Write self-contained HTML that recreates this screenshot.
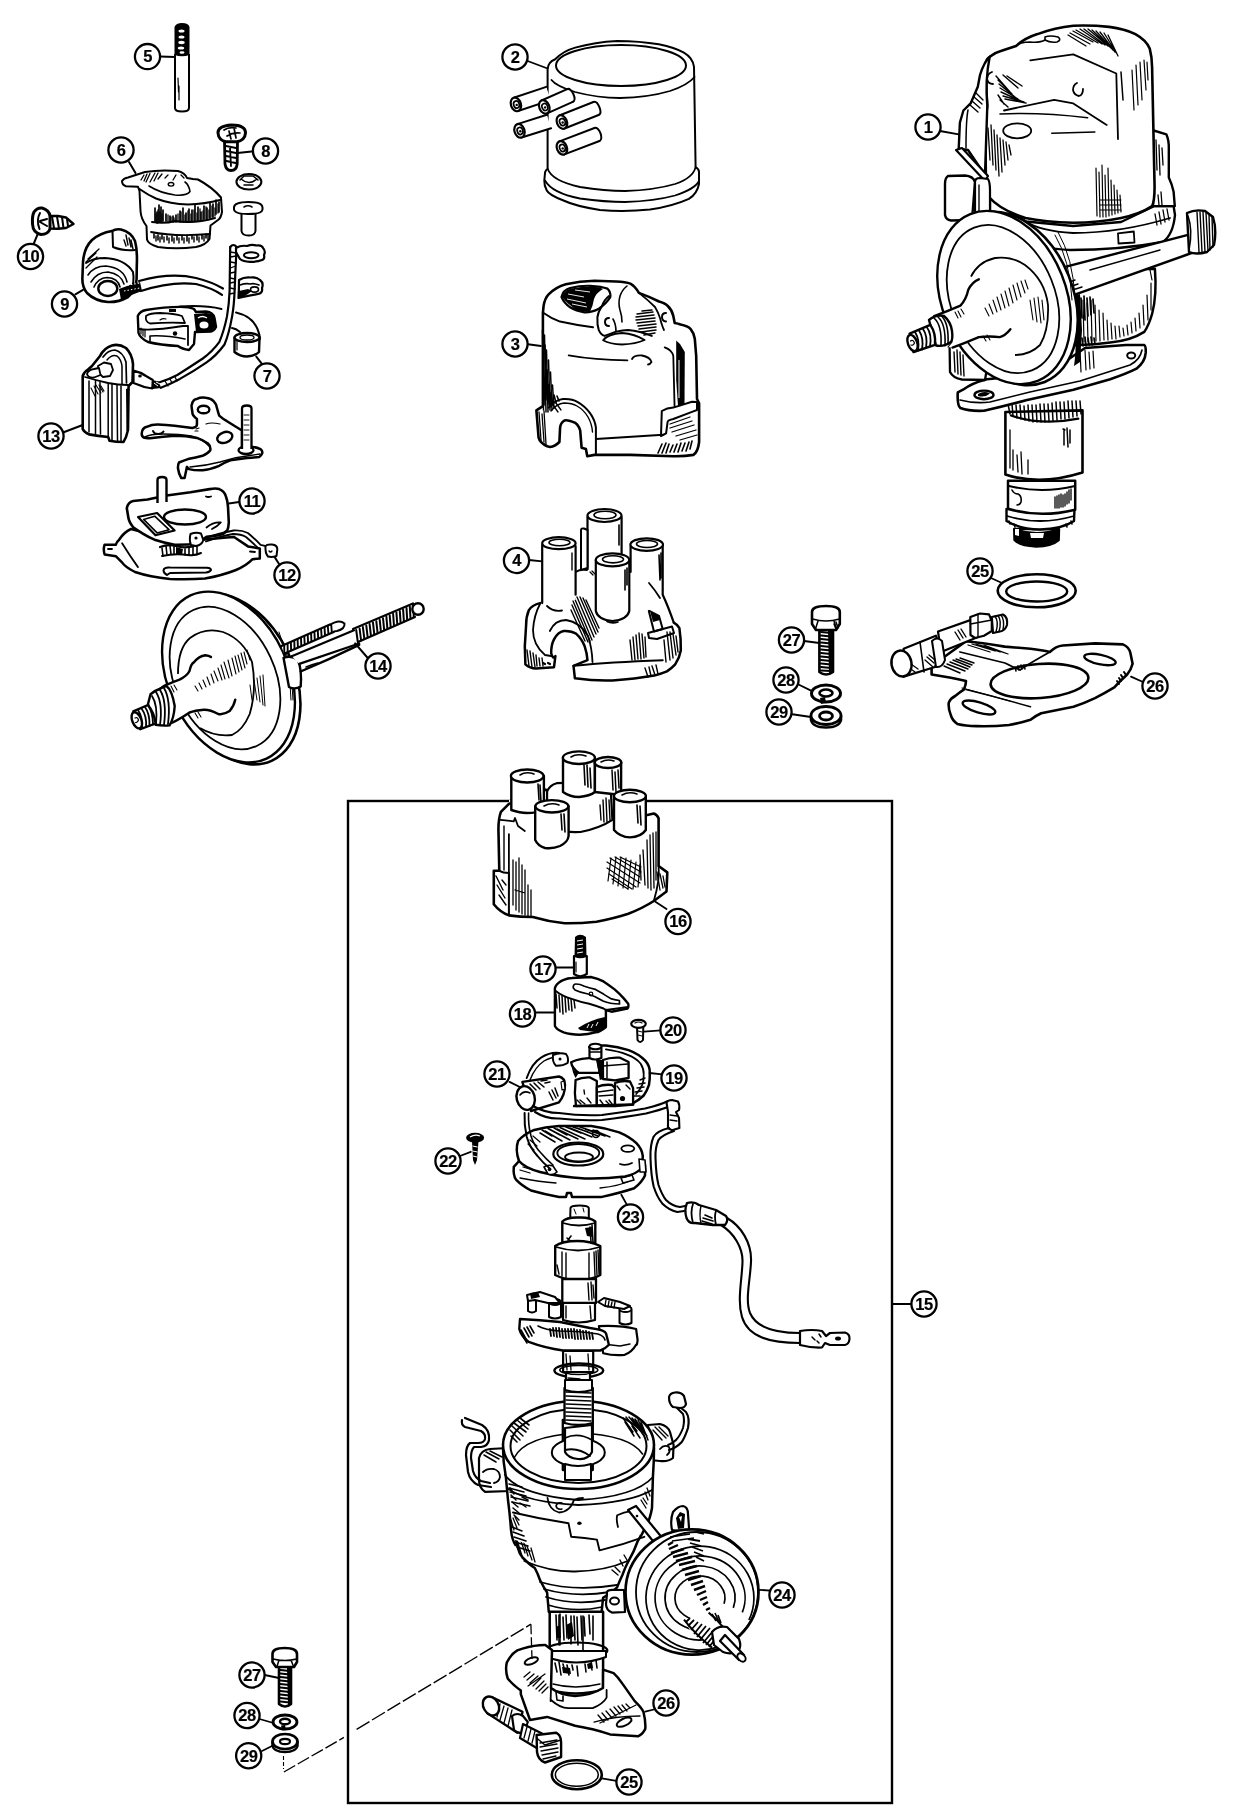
<!DOCTYPE html>
<html><head><meta charset="utf-8"><style>
html,body{margin:0;padding:0;background:#fff;}
svg{display:block;will-change:transform;}
.c circle{fill:#fff;stroke:#000;stroke-width:2.3;}
.c text{font-family:"Liberation Sans",sans-serif;font-weight:bold;font-size:16.5px;text-anchor:middle;fill:#000;letter-spacing:-0.5px;stroke:#000;stroke-width:0.2px;}
.l{fill:none;stroke:#000;stroke-width:2;stroke-linecap:round;stroke-linejoin:round;}
.t{fill:none;stroke:#000;stroke-width:1.2;stroke-linecap:round;}
.w{fill:#fff;stroke:#000;stroke-width:2;stroke-linejoin:round;}
.k{fill:#000;stroke:none;}
</style></head><body>
<svg width="1256" height="1820" viewBox="0 0 1256 1820">
<rect x="348" y="801" width="544" height="1002" fill="none" stroke="#000" stroke-width="2.4"/>
<!-- Part 5 rod -->
<g>
<path class="w" d="M175,54 L175,108 Q175,111.5 182,111.5 Q189,111.5 189,108 L189,54"/>
<path class="k" d="M174.5,27 Q176,23 182,23 Q188.5,23 189.5,27 L189.5,55 Q182,57.5 174.5,55 Z"/>
<g fill="#fff"><ellipse cx="181.5" cy="31" rx="3" ry="1.5"/><ellipse cx="181.5" cy="37" rx="3" ry="1.6"/><ellipse cx="181.5" cy="42.5" rx="3.2" ry="1.7"/><ellipse cx="181" cy="48" rx="3.2" ry="1.6"/><ellipse cx="182" cy="52.5" rx="2.5" ry="1.2"/></g>
<path class="t" d="M178,78 L178.5,92 M179,86 L179,100"/>
<line class="l" x1="160" y1="56.5" x2="175" y2="57"/>
</g>
<!-- Part 8 screw -->
<g>
<path class="w" d="M224.5,141 L225,164 Q226,170.5 231,170.5 Q236.5,170.5 237.2,164 L237.5,141 Z" style="stroke-width:2.8"/>
<path class="t" d="M226,146 L236,148 M226,151 L236,153 M226,156 L236,158 M226.5,161 L235.5,163 M230,148 L231,166" style="stroke-width:1.8"/>
<path class="w" d="M218,133 Q217.5,126 231.5,125 Q245.5,125 245.5,133 Q245,140 237,141.8 L226,141.8 Q218.5,140 218,133 Z" style="stroke-width:3"/>
<path class="l" d="M224,130 Q229,126.5 236,128 M227,136 Q233,132 240,133 M234,128 L236,138 M229,131 L231,139" style="stroke-width:1.7"/>
<line class="l" x1="237.5" y1="153" x2="254" y2="151.2"/>
</g>
<!-- nut -->
<g>
<ellipse class="w" cx="248.9" cy="181.8" rx="12.5" ry="7.8"/>
<path class="t" d="M240,180 L244,176 L253,176 L258,180 M244,185 L253,185 M241,179 Q249,186 257,179" style="stroke-width:1.5"/>
</g>
<!-- top hat bush -->
<g>
<path class="w" d="M241.5,213.5 L241.5,231 Q242,235.5 248.5,235.5 Q255,235.5 255.5,231 L255.5,213.5"/>
<path class="w" d="M234,207.5 Q234,202 248.2,202 Q262.5,202 262.5,207.5 L262.5,209.5 Q262,214 248.2,214 Q234.5,214 234,209.5 Z"/>
<path class="t" d="M244,207 Q248,204.5 252,207" style="stroke-width:1.5"/>
</g>
<!-- Part 6 -->
<g>
<path class="w" d="M122,181 Q124,178 128,177.5 L145,172 Q160,169.5 178,171 Q185,173 187,178 L193,179 L198,179.5 Q212,187 221,197.5 L222,212 Q221,218 218,220 L210.5,225.5 L209.5,239 Q206,245 196,247 Q176,249.5 158,247 Q148,244 147,239.5 L146.5,226 Q141,219 140.5,211 L139.5,191 L138,186.8 L126,186.2 Q122,185 122,181 Z"/>
<path class="l" d="M139.5,189 Q148,195 156,198.5 Q170,204 188,204.5 Q205,204 220,200"/>
<path class="l" d="M149,186 Q160,193 175,195 Q187,196 190,191.5 Q189,185 185,182" style="stroke-width:1.6"/>
<ellipse cx="171" cy="184.3" rx="2.8" ry="1.8" fill="none" stroke="#000" stroke-width="1.4"/>
<path class="t" d="M144,175 L141,180 M147,174 L144,181 M150,173.5 L146,182 M155,173 L150,182 M158,173 L154,181 M162,174 L158,179 M168,175 L165,178 M176,175 L173,180 M181,175 L184,178" style="stroke-width:1.3"/>
<path class="t" d="M156,214 L156,222 M158,210 L158,223 M160,212 L160,222 M162,214 L162,222 M168,215 L168,222 M171,217 L171,222 M174,218 L174,222 M178,214 L178,222 M181,212 L181,222 M185,215 L185,222 M188,211 L188,222 M191,214 L191,222 M194,210 L194,221 M197,213 L197,221 M200,209 L200,221 M203,211 L203,220 M206,207 L206,219 M209,210 L209,218 M212,206 L212,217 M215,208 L215,216 M218,204 L218,213" style="stroke-width:1.3"/>
<path class="t" d="M156,236 L156,241 M160,237 L160,242 M164,237 L164,242 M169,238 L169,243 M174,238 L174,243 M179,238 L179,243 M184,238 L184,243 M189,238 L189,243 M194,237 L194,242 M199,237 L199,242 M204,236 L204,241 M208,235 L208,240" style="stroke-width:1.4"/>
<path class="l" d="M151,232 Q175,237 210,234" style="stroke-width:1.8"/>
<path class="l" d="M152,222 Q165,224 175,221 Q195,224 215,218" style="stroke-width:2"/>
<path class="t" d="M155,208 L155,222 M157,212 L157,223 M159,205 L159,222 M161,207 L161,222 M163,210 L163,221 M166,214 L166,221 M170,216 L170,222 M173,216 L173,222 M176,215 L176,222 M180,211 L180,222 M183,208 L183,222 M186,213 L186,222 M189,209 L189,222 M192,210 L192,222 M195,205 L195,221 M198,207 L198,221 M201,212 L201,220 M204,206 L204,219 M207,208 L207,219 M210,203 L210,218 M213,204 L213,217 M216,200 L216,214 M219,202 L219,212" style="stroke-width:1.7"/>
<path class="t" d="M154,234 L154,238 M158,235 L158,240 M162,235 L162,239 M167,236 L167,240 M172,236 L172,241 M177,236 L177,240 M182,236 L182,240 M187,236 L187,241 M192,235 L192,239 M197,235 L197,240 M202,235 L202,239 M206,234 L206,238" style="stroke-width:1.6"/>
<line class="l" x1="129" y1="162" x2="135.5" y2="173"/>
</g>

<!-- Part 10 screw -->
<g>
<path class="w" d="M48,216 L58,216 L66,217.5 L73.5,224 L66,228 L58,228.8 L48,228.5 Z" style="stroke-width:2.4"/>
<path class="t" d="M52,216.5 L54,228 M57,216.5 L59,228.5 M62,217 L63.5,228 M67,219 L68,226" style="stroke-width:2"/>
<path class="w" d="M34,212 Q37,207.5 42,208 Q49,210 50,216 L50,229 Q48,234.5 41,234.5 Q33,233 32.5,224 Q32,216 34,212 Z" style="stroke-width:3"/>
<path class="l" d="M40,213 Q36,220 39.5,229 M40,221 L47,219 M40,222 L47,226" style="stroke-width:2"/>
<line class="l" x1="33.4" y1="244.5" x2="37.8" y2="233.8"/>
</g>
<!-- Part 9 condenser -->
<g>
<path class="w" d="M83,262 Q84,248 92,240 Q100,233 112,231 Q116,228.5 121,229.5 Q131,232 135,241 Q137.5,250 136.8,265 L136.6,279 Q136,291 128,297 Q118,302.5 108,302 Q95,301 87,293 Q82,287 82.4,278 Z" style="stroke-width:2.6"/>
<path class="l" d="M112.5,231.5 L113,247 Q122,251 135,250"/>
<path class="l" d="M86,263 Q93,258 105,258 Q125,259 133,272 Q135,283 130,292"/>
<path class="l" d="M88,275 Q94,266 106,266 Q124,268 127,282" style="stroke-width:1.6"/>
<path class="l" d="M91,282 Q97,272 108,272 Q121,274 124,284" style="stroke-width:1.6"/>
<path class="l" d="M94,287 Q98,278 107,277.5 Q118,278 120,287" style="stroke-width:1.6"/>
<ellipse class="w" cx="107.8" cy="288.5" rx="9.5" ry="7.5" style="stroke-width:2.4"/>
<path class="t" d="M86,262 L96,253 M88,259 L98,250 M86,268 L97,257 M89,258 L99,249" style="stroke-width:1.3"/>
<path class="t" d="M126,235 L128,245 M129,238 L131,247 M131,240 L133,249 M124,240 L126,246" style="stroke-width:1.4"/>
<path class="k" d="M119,289 Q128,285 140,282 L142,291 Q130,295 121,300 Z"/>
<line class="l" x1="75.4" y1="294.3" x2="83" y2="289.8"/>
</g>
<!-- condenser lead wire -->
<g>
<path class="l" d="M139,281 Q171,272 196,278 Q212,282 223,288.5" style="stroke-width:2.2"/>
<path class="l" d="M141,291 Q171,281 196,284 Q212,288 222,294.8" style="stroke-width:2.2"/>
<path d="M124,286 L140,283 M124,291 L140,288" stroke="#fff" stroke-width="1" stroke-dasharray="1.5 2"/>
</g>
<!-- long lead wire -->
<g>
<path class="l" d="M230.2,247 Q229.8,280 229.6,291 Q229,305 227,316.4 Q224,331 219.4,341.9 Q212,352 202.8,358.5 Q190,367 177.3,375 Q168,380 158.2,382.7" style="stroke-width:2.2"/>
<path class="l" d="M236.6,247 Q235.2,275 234.6,291 Q234,306 232.1,316.4 Q229,334 224.5,344.5 Q216,356 206.6,362.3 Q194,371 179.9,378.9 Q170,384 160.8,387.8" style="stroke-width:2.2"/>
<path class="l" d="M230.2,247 Q233.4,243 236.6,247" style="stroke-width:2.2"/>
<path class="t" d="M230.5,252 L236,253 M230.5,257 L236,256 M230.5,262 L236,263 M230.5,268 L235.5,266 M230.5,273 L235.5,272 M230,278 L235,279 M230,283 L235,282 M230,288 L235,289 M229.6,294 L234.5,293" style="stroke-width:1.3"/>
<path class="t" d="M165,381 L168,386 M170,379 L172,383 M175,377 L177,381" style="stroke-width:1.3"/>
</g>
<!-- ring terminal -->
<g>
<path class="w" d="M236,248 Q241,245 247,246 Q252,244 256,245.5 Q262,244.5 263,248 Q266,251 264,255 Q265,259 262,260 Q257,262 250,261.8 Q243,261.5 240,259 Q237.5,255 236,252 Z" style="stroke-width:2.2"/>
<ellipse cx="251.2" cy="255.3" rx="7.3" ry="3" fill="none" stroke="#000" stroke-width="2"/>
</g>
<!-- clip -->
<g>
<path class="w" d="M239,280 Q244,277 250,277.5 Q256,276.5 260,280 Q264,283 262,288 Q263,293 258,294 Q250,295.5 243,297 L238.5,298 Q239,290 239,280 Z" style="stroke-width:2.2"/>
<path class="l" d="M240,285 Q246,283 250,284 Q254,283 259,285" style="stroke-width:1.6"/>
<path class="k" d="M239,291 L248,289 L252,291 L245,296 L239,298 Z"/>
<ellipse cx="254.5" cy="289.5" rx="4" ry="2.6" fill="#fff" stroke="#000" stroke-width="1.6"/>
</g>
<!-- contact breaker -->
<g>
<path class="w" d="M137.8,316 Q140,311 146,310 Q165,307 180,306.9 Q190,307 194,309 L196,312 L206,311.5 Q213,312 214.5,318 L216,327 Q214,331 211,331.5 L195,332 L194,344 L189,350 Q182,349 178,346 Q160,345 148,342 Q140,338 138.5,333 Z" style="stroke-width:2.4"/>
<path class="l" d="M146,316 Q150,313 160,313 Q175,313.5 182,316 L185,323 Q170,322 150,323.5 Q145,322 146,316 Z" style="stroke-width:1.8"/>
<path class="l" d="M139,329 Q152,331 183,326 L188,326 L188,345" style="stroke-width:1.8"/>
<path class="l" d="M150,342 L150,336 Q165,335 185,339" style="stroke-width:1.6"/>
<circle cx="175" cy="333.5" r="2.2" fill="#000"/>
<path class="l" d="M160,320 Q163,318 166,319" style="stroke-width:1.2"/>
<path class="k" d="M194,314 L206,313 Q213,313 214,318 L216,326 L212,331 L196,332 Z"/>
<ellipse cx="204" cy="325" rx="4.5" ry="3.5" fill="#fff"/>
<path d="M198,318 Q202,315 207,318" stroke="#fff" stroke-width="1.4" fill="none"/>
<path class="t" d="M141,328 L141,334 M143,330 L143,336 M145,330 L145,337" style="stroke-width:1.2"/>
<path class="k" d="M169,309 L176,309 L176,312 L169,312 Z"/>
<path class="l" d="M180,306.5 Q205,305 221.5,309" style="stroke-width:2"/>
<path class="l" d="M236,312.5 Q252,316 257.5,329 Q260,335 260,339" style="stroke-width:2"/>
<path class="l" d="M232,328 Q236,328.5 240,332" style="stroke-width:2"/>
</g>
<!-- part 7 -->
<g>
<path class="w" d="M234.5,338 L234.5,352 Q240,356.5 247,356.5 Q255,356 259,352 L259.5,338 Z" style="stroke-width:2.4"/>
<ellipse class="w" cx="247" cy="337.5" rx="12.5" ry="4.5" style="stroke-width:2.4"/>
<ellipse cx="247" cy="337.5" rx="7" ry="2.5" fill="none" stroke="#000" stroke-width="1.3"/>
<path class="t" d="M237,341 L237,350" style="stroke-width:1.2"/>
<line class="l" x1="256.3" y1="356.6" x2="262.7" y2="364.8"/>
</g>

<!-- Part 13 -->
<g>
<path class="w" d="M82.7,376 Q84,372 88,369.5 L92,366 Q96,361 100,356 Q104,348 112,345.5 Q119,343.5 126,348 Q132,354 133,364 L132.5,382 L128.6,386 L128,430 L126,437 L123.5,442 Q116,442 109.5,440.7 L108.2,437 Q98,436 89,434.4 Q84,432 82.7,429 Z" style="stroke-width:2.6"/>
<path class="l" d="M103,357 Q108,350 115,350 Q123,352 126,362 L126.5,383" style="stroke-width:1.7"/>
<path class="l" d="M107,360 Q112,354 117,356 Q121,359 122,366 L122,384" style="stroke-width:1.5"/>
<path class="l" d="M89,381 L89,432 M95.5,380 L95.5,434 M100,382 L100.5,434 M108.2,383 L108.2,437 M112,384 L112,440 M117,385 L117.5,441 M121,386 L121,441" style="stroke-width:1.5"/>
<path class="l" d="M85,377 Q95,380 108,383 Q118,385 128,385" style="stroke-width:1.8"/>
<path class="w" d="M98,366 L104,362.5 L111,364 L113,370 L110,376 L103,377 L98.5,373 Z" style="stroke-width:1.8"/>
<path class="w" d="M87,374 Q88,370 94,369 L99,368 L100.5,375 L94,377.5 Q88,378 87,374 Z" style="stroke-width:1.8"/>
<path class="t" d="M94,386 L98,394 M96,385 L101,393 M99,385 L103,392 M101,386 L104,391 M91,388 L95,396" style="stroke-width:1.1"/>
<path class="k" d="M126,389 L129,388 L129,430 L126.5,431 Z"/>
<line class="l" x1="63" y1="432.5" x2="82.7" y2="425"/>
</g>
<!-- wire terminal into 13 -->
<g>
<path class="w" d="M133.5,370.7 Q140,372 146,376 L152.8,380 L152.3,388.5 Q145,388 139,385 L133.5,383 Z" style="stroke-width:2.2"/>
<ellipse cx="140" cy="376" rx="1.8" ry="1.5" fill="#000"/>
<path class="k" d="M152,380 L159,381.5 L161,388 L152.5,389 Z"/>
<path d="M154,383 L158,386 M156,382 L160,384" stroke="#fff" stroke-width="1"/>
</g>
<!-- plate under 7 -->
<g>
<path class="w" d="M141.7,433.5 Q142,428 146.7,426.8 Q152,424.5 157.9,424.6 Q166,425 174.6,425.7 L192.4,427.9 Q197,427 196.9,424.6 Q197,421 196.9,419 Q192,415 192.4,412.3 Q191,404.5 191.9,404.5 Q193,399 196.9,398.9 Q201,397 205.8,397.8 Q211,398.5 213.6,401.1 Q216.5,404 216.9,407.8 Q218,412 219.2,415.6 Q223,419 227,421.2 L235.9,426.8 L242,430.5 L242,446 L252.6,446.9 Q257,447.5 260.4,449.1 Q263,451 262.1,453.5 Q261,456 259.3,456.9 Q253,457.8 247,458 L230.3,460.2 Q225,462 219.2,465.8 Q210,469.5 202.5,470.3 Q194,470.5 189.1,469.1 L186.9,466.9 L184.6,478.1 L181.3,478.1 Q178.5,473 177.9,468 Q178,464 179,462.5 Q184,460.5 188,459.1 Q196,457.5 202.5,455.8 Q208,453.5 210.3,450.2 Q211,446 208,443.5 Q203,440 196.9,437.9 Q186,435.7 174.6,435.7 Q163,436.5 152.3,437.9 Q147,438.5 144.5,437.9 Q141.5,436.5 141.7,433.5 Z" style="stroke-width:2.5"/>
<path class="l" d="M145,437 Q150,434 163.4,434 Q180,434 191.3,436 Q203,439 209,446" style="stroke-width:1.5"/>
<path class="l" d="M190,467 Q205,466 220,462 Q235,457 250,455.5 L260,454" style="stroke-width:1.4"/>
<ellipse cx="203.6" cy="409.5" rx="5.8" ry="3.8" fill="none" stroke="#000" stroke-width="2.4"/>
<ellipse cx="224.8" cy="437.4" rx="7.8" ry="5.2" transform="rotate(-20 224.8 437.4)" fill="none" stroke="#000" stroke-width="2.4"/>
<path class="l" d="M153,431 Q154,434 158,434 Q162,434 163.5,431.5" style="stroke-width:2"/>
<path class="t" d="M196,429 L199,428 M195,431 L198,431 M206,424 Q211,422 220,424" style="stroke-width:1.2"/>
</g>
<!-- screw on plate -->
<g>
<ellipse class="w" cx="246" cy="450.2" rx="7.5" ry="3.8" style="stroke-width:2.3"/>
<path class="w" d="M242,449 L242,408.5 Q242,405.5 246.8,405.5 Q251.5,405.5 251.5,408.5 L251.5,449" style="stroke-width:2.3"/>
<path class="t" d="M244,415 L249,415 M244,420 L249,420 M244,425 L249,425 M244,430 L249,430 M244,435 L249,435 M244,440 L249,440" style="stroke-width:0.9"/>
</g>

<!-- Part 11 lower dish -->
<g>
<path class="w" d="M118.9,540 Q124,532 131,529 L150,534 L200,540 Q220,538 234,537 L248,546.4 L259.8,548.5 L259.8,558.5 L252.6,559.2 Q246,566 236,570 Q222,575.5 205,578.5 Q190,579.6 170,579 Q150,577 135,572 Q125,567 122,562.4 L116,556.3 L104.6,554.4 Q103,549 104.6,544.8 L115.7,544.8 Q116.5,542 118.9,540 Z" style="stroke-width:2.5"/>
<path class="l" d="M108,549 L112,549 M250,551.5 L255,552" style="stroke-width:1.8"/>
<path class="l" d="M122.1,543.2 Q130,556 138,567.1" style="stroke-width:1.8"/>
<path class="w" d="M163.5,570.3 Q164,567 170,567.5 L207,567.8 Q211,568 211,570 Q210,572 206,572.5 L170,573 L167,575 Q163.5,573.5 163.5,570.3 Z" style="stroke-width:2"/>
<path class="l" d="M160,547 Q168,544 176,546 Q186,549 198,545" style="stroke-width:2.2"/>
<path class="l" d="M162,556 Q175,553 188,555 Q195,556 201,553" style="stroke-width:2"/>
<path class="t" d="M162,548 L163,556 M166,546 L167,555 M170,546 L171,554 M174,546 L174,554 M185,549 L185,555 M189,548 L189,555 M193,547 L193,555 M197,546 L197,554" style="stroke-width:1.6"/>
<path class="k" d="M176,547 L183,549 L182,555 L176,554 Z"/>

</g>
<!-- Part 11 upper plate -->
<g>
<path class="w" d="M126.8,508.2 Q128,502 133.2,501 L147.5,499.5 L166.7,495.5 L190.5,492.3 L209.6,489.1 Q216,488 219.2,489.1 Q224,491 225.6,495.5 Q227.5,500 228,506.6 L228.8,522.5 Q228.5,528 227.2,530.5 Q224,534 219.2,535.3 L206.5,536.9 Q202,540 198.5,543.2 Q188,545 174.6,544.8 Q164,543 155.5,540.1 Q148,537 142.8,533.7 Q137,530 133.2,527.3 Q129,522 128.4,517.8 Z" style="stroke-width:2.6"/>
<ellipse cx="185" cy="517" rx="21" ry="7.5" fill="#fff" stroke="#000" stroke-width="2.4"/>
<path class="w" d="M138,517 L157.1,513 L174.6,530.5 L155.5,535.3 Z" style="stroke-width:2.2"/>
<path class="l" d="M143.6,519.4 L154.7,516.2 L169,529.7 L157.1,532.9 Z" style="stroke-width:1.6"/>
<path class="l" d="M206,496.5 Q208,497.5 211,496.5" style="stroke-width:1.8"/>
<path class="l" d="M206.5,527.5 Q213,522 220.8,522.5 Q218,526 212,529" style="stroke-width:1.8"/>
<path class="w" d="M157.5,503 L157.5,480 Q157.5,477 162,477 Q166.5,477 166.5,480 L166.5,502" style="stroke-width:2.4"/>
<path class="w" d="M190.5,534 Q196,532 201,533.5 L203.3,540 Q202,545 196,546 L191,545 Q189,540 190.5,534 Z" style="stroke-width:2"/>
<circle cx="196" cy="538" r="1.6" fill="#000"/>
</g>
<!-- wire 12 -->
<g>
<path class="l" d="M204,538.5 Q220,533 233.5,530.5 Q242,530 247.9,533 Q254,538 260.6,544.8 L267,546.4" style="stroke-width:1.8"/>
<path class="l" d="M206,541.5 Q221,536 233,534 Q241,534 246,537 Q252,542 258,548" style="stroke-width:1.8"/>
<path class="w" d="M265.5,546 Q267,544 272,544.5 Q277.5,545 277.3,549.5 L276.5,556 Q272,557.5 268,556.5 Q265,553 265.5,546 Z" style="stroke-width:2"/>
<path class="l" d="M269,551 Q270.5,553 272,551" style="stroke-width:1.3"/>
<line class="l" x1="275" y1="557.6" x2="279.7" y2="565"/>
<line class="l" x1="228.8" y1="503.4" x2="240.7" y2="501.8"/>
</g>
<!-- Part 14 -->
<g>
<ellipse cx="234" cy="679" rx="60" ry="90" transform="rotate(-25 234 679)" fill="#fff" stroke="#000" stroke-width="2.6"/>
<ellipse cx="228.5" cy="677" rx="60" ry="90" transform="rotate(-25 228.5 677)" fill="#fff" stroke="#000" stroke-width="2.4"/>
<path class="t" d="M282,640 Q292,665 293,700 M279,632 Q290,660 291,700" style="stroke-width:1"/>
<ellipse cx="225" cy="678" rx="50" ry="75" transform="rotate(-25 225 678)" fill="none" stroke="#000" stroke-width="1.8"/>
<path d="M178,673.9 Q178,648 190,638 Q205,627 223,632 Q244,640 252,662 Q257,690 249.7,714 Q243,730 232,735 Q215,737 200,728" fill="none" stroke="#000" stroke-width="1.8"/>
<!-- cone boss -->
<path class="w" d="M153.7,695.3 Q160,688 165.1,685.3 Q173,682 179.5,679.6 Q187,676 189.5,671 Q191,664 193.8,662.4 Q199,656 205.3,655.2 Q210,655 212,657 L236,700 Q233,708 229.6,711.1 Q224,715 218.2,714 Q210,709.5 203.8,709.7 Q195,710.5 189.5,712.5 Q180,719 172.3,722.6 Q164,724 158,722.6 Z" style="stroke:none"/>
<path class="l" d="M153.7,695.3 Q160,688 165.1,685.3 Q173,682 179.5,679.6 Q187,676 189.5,671 Q191,664 193.8,662.4 Q199,656 205.3,655.2 Q209,655.5 211,657" style="stroke-width:2.4"/>
<path class="l" d="M158,722.6 Q164,724 172.3,722.6 Q180,719 189.5,712.5 Q195,710.5 203.8,709.7 Q210,709.5 218.2,714 Q224,715 229.6,711.1 Q234,706 235.3,699.6" style="stroke-width:2.4"/>
<path class="t" d="M195,686 L198,691 M199,683 L202,689 M203,680 L206,687 M207,677 L210,685 M211,674 L214,683 M214,671 L218,681 M218,668 L222,680 M221,665 L225,679 M224,662 L229,678 M228,660 L232,676 M232,658 L236,674 M235,656 L239,672 M238,655 L242,670 M241,653 L245,668 M244,652 L247,664 M247,650 L250,660" style="stroke-width:1.1"/>
<path class="t" d="M254,680 L257,700 M257,678 L260,702 M260,676 L263,705 M263,675 L265,706 M250,685 L252,700" style="stroke-width:1"/>
<path class="t" d="M168,688 L172,694 M171,686 L174,692 M174,685 L177,690 M165,718 L170,713 M168,719 L172,715 M195,713 L198,718 M198,712 L201,717" style="stroke-width:1.1"/>
<!-- nipple -->
<path class="w" d="M150.5,694.2 Q156,690 160.7,688.5 Q164,686.5 166.4,686 Q172,690 174.7,706 Q174,718 169.6,725.4 Q162,726 155.6,724.8 Q150,712 148,704 Z" style="stroke-width:2.4"/>
<path class="t" d="M152,696 Q158,705 156,724 M156,692 Q163,703 160,725 M160,690 Q167,701 164,725 M164,688 Q171,700 168,724" style="stroke-width:1.8"/>
<path class="w" d="M133.3,711.4 L147.9,705 Q154,712 155.6,723.5 L140.3,729.2 Z" style="stroke-width:2.4"/>
<path class="t" d="M138,710 Q143,718 142,728 M141.5,708.5 Q147,716 146,727 M145,707 Q150,714 149.5,726 M148.5,706 Q153,713 153,724.5" style="stroke-width:1.8"/>
<ellipse class="w" cx="136.8" cy="720.3" rx="4.5" ry="8.5" transform="rotate(-22 136.8 720.3)" style="stroke-width:2.4"/>
<path class="l" d="M135,718 Q137.5,716.5 138.5,720 Q137.5,723 135.5,722.5" style="stroke-width:1.2"/>
<!-- rod -->
<path class="w" d="M283.5,657.8 Q292,655 298,660 Q302,670 300.7,686.4 Q295,690 289,687 Z" style="stroke-width:2.4"/>
<!-- upper spring -->
<path d="M281.5,646 L329.9,624.4 L333.7,632 L284,653.7 Z" fill="#fff"/>
<path class="l" d="M281.5,646 L329.9,624.4 M284,653.7 L333.7,632" style="stroke-width:2.2"/>
<path class="t" d="M284.2,645.5 L284.3,653.5 M287.6,644.0 L287.7,652.0 M290.9,642.5 L291.1,650.4 M294.3,641.0 L294.5,648.9 M297.6,639.5 L297.9,647.4 M301.0,638.0 L301.3,645.8 M304.3,636.5 L304.7,644.3 M307.7,635.0 L308.1,642.8 M311.1,633.5 L311.4,641.2 M314.4,632.0 L314.8,639.7 M317.8,630.5 L318.2,638.1 M321.1,629.0 L321.6,636.6 M324.5,627.5 L325.0,635.1 M327.8,626.0 L328.4,633.5 M331.2,624.5 L331.8,632.0" style="stroke-width:1.9"/>
<path class="l" d="M330,625 Q339,619 344.5,623.5 Q345,629 337,631 Q334,631 333.7,632" style="stroke-width:2"/>
<!-- main rod -->
<path d="M291.7,656.2 L414,605.3 L414,615.5 L299.3,663.9 Z" fill="#fff"/>
<path class="l" d="M291.7,656.2 L354,630.3 M299.3,663.9 L359.2,643.5" style="stroke-width:2.2"/>
<path class="l" d="M353,629 L413,603.5 M358,642 L415,617" style="stroke-width:2.2"/>
<path class="t" d="M356.2,630.0 L357.8,642.0 M359.6,628.5 L361.1,640.5 M362.9,627.1 L364.4,639.1 M366.3,625.6 L367.7,637.6 M369.6,624.1 L371.0,636.1 M373.0,622.6 L374.3,634.6 M376.3,621.2 L377.6,633.2 M379.7,619.7 L380.9,631.7 M383.0,618.2 L384.2,630.2 M386.4,616.8 L387.4,628.8 M389.7,615.3 L390.7,627.3 M393.1,613.8 L394.0,625.8 M396.4,612.4 L397.3,624.4 M399.8,610.9 L400.6,622.9 M403.1,609.4 L403.9,621.4 M406.5,607.9 L407.2,619.9 M409.8,606.5 L410.5,618.5 M413.2,605.0 L413.8,617.0" style="stroke-width:2"/>
<circle class="w" cx="418" cy="609" r="5.7" style="stroke-width:2.4"/>
<!-- lower strap -->
<path class="l" d="M300.6,671.5 Q330,659 359.2,644.8" style="stroke-width:2.4"/>
<path class="l" d="M306,667 Q312,664.5 318,663" style="stroke-width:1.6"/>
<line class="l" x1="355.1" y1="643.4" x2="369.5" y2="660"/>
</g>

<!-- Part 2 cap -->
<g>
<path class="w" d="M547.6,69.3 Q548,62 555.2,59.3 Q563,51 575.2,47.6 Q595,42 617,40.9 Q640,41 658.8,44.2 Q675,47.5 683.9,52.6 Q693,58 694,66.8 L695.6,167.1 Q699,169 699,172 L699,184 Q697,194 688.9,198.9 Q672,206.5 650,209.5 Q625,212 600,210 Q575,206 563.5,200.5 Q549,195 546.8,190.5 Q544,185 544.3,180.5 L545.1,172.1 Q546,169.5 547.6,168.8 Z" style="stroke-width:2"/>
<ellipse cx="621" cy="65.5" rx="65" ry="20.5" fill="none" stroke="#000" stroke-width="2"/>
<path class="l" d="M551.5,80 Q556,86 575,92 Q598,98 620,98 Q648,97.5 670,91 Q688,85 694.5,77" style="stroke-width:1.8"/>
<path class="l" d="M547.6,168.8 Q552,181 580,187 Q605,191 625,191 Q655,190 675,184 Q693,178 695.6,167.1" style="stroke-width:1.8"/>
<path class="l" d="M545,180.5 Q552,193 580,198.5 Q605,202 625,202 Q655,201 675,195.5 Q695,189 699,181" style="stroke-width:1.8"/>
<path d="M518.1,111.0 L550.7,100.1 L546.3,86.9 L513.7,97.8 Z" fill="#fff" stroke="none"/>
<path class="l" d="M518.1,111.0 L550.7,100.1" style="stroke-width:2"/>
<path class="l" d="M513.7,97.8 L546.3,86.9" style="stroke-width:2"/>
<ellipse cx="515.9" cy="104.4" rx="5.0" ry="7.0" transform="rotate(-18 515.9 104.4)" fill="#fff" stroke="#000" stroke-width="2.2"/>
<ellipse cx="516.4" cy="104.7" rx="2.8" ry="3.6" transform="rotate(-18 515.9 104.4)" fill="none" stroke="#000" stroke-width="1.7"/>
<circle cx="516.6999999999999" cy="104.9" r="1.2" fill="#000"/>
<path d="M521.6,137.5 L551.1,128.2 L546.9,114.8 L517.4,124.1 Z" fill="#fff" stroke="none"/>
<path class="l" d="M521.6,137.5 L551.1,128.2" style="stroke-width:2"/>
<path class="l" d="M517.4,124.1 L546.9,114.8" style="stroke-width:2"/>
<ellipse cx="519.5" cy="130.8" rx="5.0" ry="7.0" transform="rotate(-17 519.5 130.8)" fill="#fff" stroke="#000" stroke-width="2.2"/>
<ellipse cx="520.0" cy="131.10000000000002" rx="2.8" ry="3.6" transform="rotate(-17 519.5 130.8)" fill="none" stroke="#000" stroke-width="1.7"/>
<circle cx="520.3" cy="131.3" r="1.2" fill="#000"/>
<path d="M547.1,113.3 L572.8,101.9 C577.3,99.9 571.6,87.1 567.2,89.1 L541.5,100.5 Z" fill="#fff" stroke="none"/>
<path class="l" d="M547.1,113.3 L572.8,101.9" style="stroke-width:2"/>
<path class="l" d="M541.5,100.5 L567.2,89.1" style="stroke-width:2"/>
<path class="l" d="M572.8,101.9 C577.3,99.9 571.6,87.1 567.2,89.1" style="stroke-width:2"/>
<ellipse cx="544.3" cy="106.9" rx="5.0" ry="7.0" transform="rotate(-24 544.3 106.9)" fill="#fff" stroke="#000" stroke-width="2.2"/>
<ellipse cx="544.8" cy="107.2" rx="2.8" ry="3.6" transform="rotate(-24 544.3 106.9)" fill="none" stroke="#000" stroke-width="1.7"/>
<circle cx="545.0999999999999" cy="107.4" r="1.2" fill="#000"/>
<path d="M564.5,128.5 L598.6,115.0 C603.1,113.2 598.0,100.2 593.4,102.0 L559.3,115.5 Z" fill="#fff" stroke="none"/>
<path class="l" d="M564.5,128.5 L598.6,115.0" style="stroke-width:2"/>
<path class="l" d="M559.3,115.5 L593.4,102.0" style="stroke-width:2"/>
<path class="l" d="M598.6,115.0 C603.1,113.2 598.0,100.2 593.4,102.0" style="stroke-width:2"/>
<ellipse cx="561.9" cy="122" rx="5.0" ry="7.0" transform="rotate(-22 561.9 122)" fill="#fff" stroke="#000" stroke-width="2.2"/>
<ellipse cx="562.4" cy="122.3" rx="2.8" ry="3.6" transform="rotate(-22 561.9 122)" fill="none" stroke="#000" stroke-width="1.7"/>
<circle cx="562.6999999999999" cy="122.5" r="1.2" fill="#000"/>
<path d="M564.4,154.4 L599.5,141.0 C604.1,139.3 599.1,126.2 594.5,128.0 L559.4,141.4 Z" fill="#fff" stroke="none"/>
<path class="l" d="M564.4,154.4 L599.5,141.0" style="stroke-width:2"/>
<path class="l" d="M559.4,141.4 L594.5,128.0" style="stroke-width:2"/>
<path class="l" d="M599.5,141.0 C604.1,139.3 599.1,126.2 594.5,128.0" style="stroke-width:2"/>
<ellipse cx="561.9" cy="147.9" rx="5.0" ry="7.0" transform="rotate(-21 561.9 147.9)" fill="#fff" stroke="#000" stroke-width="2.2"/>
<ellipse cx="562.4" cy="148.20000000000002" rx="2.8" ry="3.6" transform="rotate(-21 561.9 147.9)" fill="none" stroke="#000" stroke-width="1.7"/>
<circle cx="562.6999999999999" cy="148.4" r="1.2" fill="#000"/>
<line class="l" x1="527.6" y1="61" x2="547.6" y2="68.5" style="stroke-width:1.8"/>
</g>
<!-- Part 3 -->
<g>
<path class="w" d="M543.6,305.8 Q545,298 548.6,294.4 Q556,287 565.8,284.3 Q580,281 594.5,280.7 L616,281.5 Q626,282 630.3,283.6 Q635,286 638.9,292.9 Q650,297 659,301.5 Q665,303 667.6,305.8 Q672,310 673.3,315.9 L674.7,323 Q678,323.5 680.5,324.5 Q688,326 690.5,328.8 Q694,333 694.8,338.8 L696.2,356 L697,399 L699.1,403.3 L699.1,442 Q698,452 693.4,454.9 Q685,456.5 673.3,456.3 L630.3,454.9 L594.5,454.9 L587.3,456.3 L585.9,449.1 L581.6,447.7 L580.2,430.5 Q578,423 573,421.9 Q567,419.5 564.4,420.5 Q560.5,423 560.1,427.6 L559.4,442 Q555,446.5 550.1,447 L547.2,446.3 Q540,443 538.6,437.7 L536.4,410.4 L542.9,406.1 L542.9,313 Z" style="stroke-width:2.6"/>
<path d="M561.5,297 Q563,290 570,288 Q580,285.5 590,285.8 Q602,286.5 607.4,288.6 Q611,292 610.3,297.2 Q606,304 598.8,308.7 Q592,312.5 584.5,312.3 Q576,311 570.1,307.3 Q564,303 561.5,297 Z" fill="#fff" stroke="#000" style="stroke-width:2.2"/>
<path class="k" d="M562,297 Q564,290.5 571,288.5 Q581,286.5 592,286.5 Q599,287 603,289 Q596,293 594,299 Q593,306 590,311.5 Q585,312.5 578,310.5 Q568,305 562,297 Z"/>
<path d="M568,294 L584,297 M567,299 L586,303 M572,304 L587,307 M575,290 L590,292" stroke="#fff" style="stroke-width:0.9"/>
<path class="l" d="M543.6,313 Q552,319 560,321.6 Q575,325 593,327.3" style="stroke-width:2"/>
<path class="l" d="M609,296 Q604,300 602,306 Q598,312 597.4,317.3 Q597,325 598.8,330.2 Q601,335 604.5,335.9 Q610,334 616,331.6 Q623,330 628,330 Q640,331 651.8,335.9" style="stroke-width:2"/>
<path class="l" d="M616,331.6 Q616,324 613,319 M627,286 Q622,290 620,296 Q618,303 620,310 Q622,316 622,322" style="stroke-width:1.6"/>
<path class="l" d="M609,318 Q605,318 605,322 Q605,326 609,326" style="stroke-width:2"/>
<path class="l" d="M666,313 Q662,313 662,317 Q662,321 666,321.5" style="stroke-width:2"/>
<path class="l" d="M638.9,292.9 Q648,300 655,307 Q658,312 660,318 Q662,326 664,330" style="stroke-width:1.8"/>
<path class="t" d="M637,314 L653,312 M636,317 L654,315 M636,320 L655,318 M637,323 L655,321 M638,326 L656,324 M639,329 L656,327 M641,332 L656,330 M644,335 L655,333 M642,311 L652,310" style="stroke-width:1.5"/>
<path class="l" d="M603.1,340.2 Q608,334 622,333 Q635,334 644.6,340 Q636,344 622,344.5 Q610,344 603.1,340.2 Z" style="stroke-width:1.8"/>
<path class="l" d="M568.7,355.3 Q595,360 627.4,360.3" style="stroke-width:1.8"/>
<path class="l" d="M632,359 Q634,355 642,355.5 Q650,357 651.5,362 Q650,364.5 648,364.5" style="stroke-width:1.8"/>
<path class="l" d="M664.7,347.4 Q672,350 673.3,356 L674.7,411.9" style="stroke-width:1.8"/>
<path class="k" d="M676.2,340.5 L680,344 L684.8,352 L684.5,406 L678,406 L676.2,380 Z"/>
<path d="M679,360 L679,398" stroke="#fff" stroke-width="1"/>
<path class="w" d="M661.8,411 Q667,408 673.3,407.6 L692,401.8 L697,402 L697,410 L692,411.9 L673.3,419 Q668,420 667.6,421.9 L666.1,433.4 L661,436 Z" style="stroke-width:2"/>
<path class="l" d="M595.9,439.1 Q630,437 663.3,434.8" style="stroke-width:2"/>
<path class="l" d="M595.9,439.1 L595.9,454.9" style="stroke-width:2"/>
<path class="l" d="M548.6,407.6 Q555,400 563,399 Q572,398.5 577.3,401.8 Q585,406 590.2,413.3 Q595,420 595.9,427.6 L595.9,439.1" style="stroke-width:2"/>
<path class="l" d="M551,411 Q557,403.5 564,403 Q572,403 577,406 Q584,410 588,417 Q592,424 592.5,432" style="stroke-width:1.4"/>
<path class="t" d="M542.5,330 L543.5,410 M544.5,335 L546,412 M546.5,350 L548,412 M548.5,360 L550,410 M550.5,372 L552,410 M552.5,385 L554,408" style="stroke-width:1.5"/>
<path class="t" d="M543,340 L545,405 M545,345 L547,400 M547,370 L549,405 M549,385 L551,407 M551,393 L553,405 M554,395 L556,403 M557,396 L559,401" style="stroke-width:1.6"/>
<path class="t" d="M539,412 L541,440 M542,414 L544,442 M544,411 L546,444 M553,405 L558,412 M556,403 L561,410" style="stroke-width:1.3"/>
<path class="t" d="M658,453 L662,444 M662,453 L666,443 M666,453 L669,444 M670,452 L673,445 M674,452 L677,444 M678,452 L681,443 M682,451 L685,443 M686,451 L689,442 M690,449 L692,441" style="stroke-width:1.6"/>
<path class="t" d="M670,424 L690,417 M670,428 L692,421 M672,432 L694,425 M676,436 L696,430 M680,440 L697,435" style="stroke-width:1.3"/>
<line class="l" x1="526" y1="344" x2="541" y2="346" style="stroke-width:1.8"/>
</g>

<!-- Part 4 -->
<g>
<!-- back tower first -->
<path class="w" d="M587.5,517 L587.5,575 L621.6,575 L621.6,517 Z" style="stroke:none"/>
<path class="l" d="M587.5,517 L587.5,572 M621.6,517 L621.6,556" style="stroke-width:2.2"/>
<path class="w" d="M581,530 Q581,528 584,528.5 L587.5,530 L587.5,568 L581,570 Z" style="stroke-width:2"/>
<ellipse class="w" cx="604.5" cy="515.5" rx="17" ry="6.5" style="stroke-width:2.2"/>
<ellipse cx="605" cy="515" rx="11" ry="3.8" fill="none" stroke="#000" stroke-width="1.6"/>
<path class="t" d="M619,525 L619,545" style="stroke-width:1.6"/>
<!-- base silhouette -->
<path d="M540.1,603.1 Q532,605 528.9,610.1 Q526,617 526.1,625.4 L524.8,646.3 L525.4,664.4 Q530,668.5 535.9,668.6 L554,667.2 L555.4,656.1 Q553,660 551.2,653.3 Q551,645 554,639.3 Q558,632 563.8,631 Q571,630.5 576.3,633.8 Q582,639 584.7,646.3 Q587,653 587.5,660.2 L573.5,665.8 L574.9,678.3 Q595,681 612.5,680.4 Q635,679 654.3,675.6 Q662,673.5 666.9,671.4 Q672,668 675.2,664.4 Q679.5,658 680.8,650.5 Q681,638 679.4,628.2 Q677,624 673.8,622.6 L662.7,594.7 L662.7,570 L575.6,570 L575.6,600 L540.1,603.1 Z" fill="#fff"/>
<path class="l" d="M540.1,603.1 Q532,605 528.9,610.1 Q526,617 526.1,625.4 L524.8,646.3 L525.4,664.4 Q530,668.5 535.9,668.6 L554,667.2 L555.4,656.1 Q553,660 551.2,653.3 Q551,645 554,639.3 Q558,632 563.8,631 Q571,630.5 576.3,633.8 Q582,639 584.7,646.3 Q587,653 587.5,660.2 L573.5,665.8 L574.9,678.3 Q595,681 612.5,680.4 Q635,679 654.3,675.6 Q662,673.5 666.9,671.4 Q672,668 675.2,664.4 Q679.5,658 680.8,650.5 Q681,638 679.4,628.2 Q677,624 673.8,622.6" style="stroke-width:2.5"/>
<path class="l" d="M575.6,572 Q580,569 587,570" style="stroke-width:1.8"/>
<path class="l" d="M590,572 L593,575 M592,571 L595,574" style="stroke-width:1.2"/>
<path class="l" d="M573.5,665.8 Q610,662 662.7,660.2" style="stroke-width:2"/>
<path class="l" d="M549.8,631 Q555,620 566,620 Q580,622 588,636 Q592,648 592.5,662" style="stroke-width:1.8"/>
<path class="l" d="M540,604 Q534,615 533,630 Q533,645 545,655 L551,656" style="stroke-width:1.8"/>
<path class="t" d="M527,650 L529,666 M530,651 L532,667 M533,653 L535,667 M536,655 L537,666 M539,658 L540,666 M542,658 L543,666" style="stroke-width:1.4"/>
<path class="l" d="M543,663 L545,664 M548,663 L550,664" style="stroke-width:2.2"/>
<path class="t" d="M574,597 L592,640 M577,597 L594,637 M580,597 L596,634 M583,598 L598,632 M586,600 L599,628 M573,601 L590,641 M572,605 L588,642 M571,610 L585,641" style="stroke-width:1.4"/>
<path class="t" d="M630,640 L632,660 M633,637 L635,660 M636,635 L638,659 M639,633 L641,659 M642,634 L644,658 M645,637 L646,657 M667,632 L670,660 M670,632 L673,658 M673,634 L676,655 M676,636 L678,652 M664,640 L666,662 M645,668 L648,677 M649,667 L651,676 M652,666 L655,675 M656,665 L658,674" style="stroke-width:1.4"/>
<!-- right lug -->
<path class="w" d="M648.8,611 L657,608.7 L662.7,629 L654,631.5 Z" style="stroke-width:2"/>
<path class="k" d="M650,611 L656.5,609.5 L660,620 L653,622 Z"/>
<path class="l" d="M648,633 L672,626.5 L674,633 L657,639 L649,638 Z" style="stroke-width:2"/>
<!-- right tower -->
<path class="w" d="M630.6,545 L630.6,600 L673.8,622.6 L662.7,594.7 L662.7,545 Z" style="stroke:none"/>
<path class="l" d="M662.7,545 L662.7,594.7 Q668,606 673.8,622.6" style="stroke-width:2.2"/>
<path class="l" d="M630.6,546 L630.6,572" style="stroke-width:2.2"/>
<path class="l" d="M649,583 Q655,590 660,598" style="stroke-width:1.8"/>
<ellipse class="w" cx="646.7" cy="544.6" rx="16.3" ry="6.3" style="stroke-width:2.2"/>
<ellipse cx="647" cy="544" rx="10.5" ry="3.5" fill="none" stroke="#000" stroke-width="1.6"/>
<path class="t" d="M659,555 L660,580 M661,553 L661,578" style="stroke-width:1.6"/>
<!-- left tower -->
<path class="w" d="M542.2,543 L542.2,603.1 L575.6,600 L575.6,543 Z" style="stroke:none"/>
<path class="l" d="M542.2,545 L542.2,603.1 M575.6,546 L575.6,594.7" style="stroke-width:2.2"/>
<path class="l" d="M547,606 Q553,612 562,610.5" style="stroke-width:1.8"/>
<ellipse class="w" cx="558.9" cy="543.2" rx="16.7" ry="6" style="stroke-width:2.2"/>
<ellipse cx="559.5" cy="542.5" rx="10.5" ry="3.3" fill="none" stroke="#000" stroke-width="1.6"/>
<path class="t" d="M572,553 L572,570" style="stroke-width:1.4"/>
<!-- front tower -->
<path class="w" d="M595.8,560 L595.8,611 Q598,620 612.5,621 Q627,620 629.3,611 L629.3,560 Z" style="stroke-width:2.2"/>
<ellipse class="w" cx="612.5" cy="559.9" rx="16.7" ry="6.5" style="stroke-width:2.2"/>
<ellipse cx="613" cy="559.3" rx="10.5" ry="3.6" fill="none" stroke="#000" stroke-width="1.6"/>
<path class="t" d="M625,570 L625,590 M627,568 L627,585" style="stroke-width:1.6"/>
<path class="l" d="M607,621.5 Q612,624 618,622" style="stroke-width:1.6"/>
<line class="l" x1="528.9" y1="560" x2="542.2" y2="561.3" style="stroke-width:1.8"/>
</g>

<!-- Part 1 big distributor -->
<g>
<!-- shank -->
<path class="w" d="M1014.2,529 L1014.5,540 Q1020,546 1036,546.5 Q1052,546 1058.7,540 L1059,529 Z" style="stroke-width:2.4"/>
<path class="k" d="M1014.5,528 Q1036,536 1059,528 L1058.7,540 Q1052,546.5 1036,546.8 Q1020,546.5 1014.5,540 Z"/>
<path d="M1015,529 L1019,529 L1019,536 L1015,535 Z M1030,533 L1044,533 L1043,538 L1031,538 Z" fill="#fff"/>
<path class="w" d="M1006.5,509 L1006.5,521 Q1020,529 1040,529.5 Q1062,529 1074,521 L1074.5,509 Z" style="stroke-width:2.4"/>
<path class="l" d="M1007,516 Q1040,526 1074,516" style="stroke-width:1.8"/>
<path class="t" d="M1009,521 L1010,524 M1014,524 L1015,527 M1066,524 L1067,527 M1071,521 L1072,524" style="stroke-width:1.5"/>
<path class="w" d="M1008,480.7 L1008,508.7 Q1040,518.5 1075.2,509.7 L1075.2,480.7 Z" style="stroke-width:2.5"/>
<path class="l" d="M1009,486 Q1042,494 1075,486" style="stroke-width:2"/>
<path class="l" d="M1012,490 Q1014,494 1018,494 Q1022,496 1021,502 Q1020,505 1017,505" style="stroke-width:1.6"/>
<path class="t" d="M1055,497 L1055,508 M1057,496 L1057,508 M1059,495 L1059,508 M1061,494 L1061,507 M1063,495 L1063,507 M1065,494 L1065,506 M1067,492 L1067,504 M1069,490 L1069,503 M1071,489 L1071,500" style="stroke-width:1.3"/>
<path class="w" d="M1005.4,412 L1005.4,474.5 Q1040,486 1082.5,472.5 L1082.5,410.4 Z" style="stroke-width:2.6"/>
<path class="l" d="M1011,415.5 Q1042,426 1078.3,418.6" style="stroke-width:2.2"/>
<path class="t" d="M1008,404 L1010,414 M1012,404 L1013,416 M1016,405 L1017,418 M1020,405 L1021,419 M1024,406 L1025,420 M1028,405 L1029,421 M1032,405 L1033,422 M1036,405 L1037,422 M1040,404 L1041,422 M1044,404 L1045,422 M1048,404 L1049,421 M1052,403 L1053,421 M1056,402 L1057,420 M1060,402 L1061,419 M1064,402 L1065,419 M1068,401 L1069,418 M1072,401 L1073,417 M1076,401 L1077,416 M1080,401 L1081,414" style="stroke-width:1.5"/>
<path class="t" d="M1010,430 L1010,468 M1013,450 L1013,470 M1017,455 L1018,472 M1021,452 L1022,474 M1028,460 L1028,474" style="stroke-width:1.3"/>
<path class="t" d="M1063,429 L1065,430 M1064,429 L1064,445 M1067,428 L1068,447 M1070,430 L1070,443" style="stroke-width:1.5"/>
<!-- mounting plate -->
<path class="w" d="M957.8,392.3 Q957,405 960.4,408 Q970,411.5 984,410.7 Q1005,406 1026,400.2 L1073.4,389.7 L1110.2,379.2 Q1126,374 1136.5,368.7 Q1145,362 1145.7,352.9 Q1146,346 1144.3,345 L1126,345 L1085,348 L1060,365 L1030,372 L1000,378 L986.7,379.2 Q972,383 963,389.7 Z" style="stroke-width:2.6"/>
<path class="l" d="M960,400 Q975,404 990,402 L1030,392 L1080,381 L1130,365 Q1140,360 1142,350" style="stroke-width:1.6"/>
<ellipse cx="984" cy="394.9" rx="9.5" ry="4.3" fill="#fff" stroke="#000" style="stroke-width:2.4"/>
<path class="k" d="M978,394 Q984,390.5 990,393.5 Q985,398 978,396 Z"/>
<ellipse cx="1131.2" cy="355.5" rx="4" ry="3" fill="none" stroke="#000" style="stroke-width:2"/>
<!-- lower body behind disc -->
<path class="w" d="M1060,270 L1154.9,268.8 Q1157,295 1152.2,313.5 Q1149,325 1144.3,331.9 Q1130,341 1110.2,342.4 Q1095,344.5 1078.7,345 L1066,346 Z" style="stroke-width:2.5"/>
<path class="t" d="M1079,305 L1080,342 M1083,300 L1084,342 M1087,303 L1088,342 M1091,300 L1092,341 M1095,305 L1096,341 M1099,310 L1100,341 M1103,313 L1104,340 M1107,320 L1108,340 M1111,323 L1112,339 M1115,326 L1116,339 M1119,326 L1120,337 M1123,328 L1124,336 M1127,325 L1128,335 M1131,322 L1132,333 M1135,318 L1136,331 M1139,313 L1140,328 M1143,305 L1144,325 M1147,295 L1148,320 M1151,283 L1151,310" style="stroke-width:1.2"/>
<path class="t" d="M1080,350 L1081,372 M1085,350 L1086,370 M1089,352 L1090,369 M1093,351 L1094,368" style="stroke-width:1.2"/>
<path class="t" d="M1150,270 L1152,280 M1145,258 L1150,268" style="stroke-width:1.2"/>
<path class="k" d="M1073,296 L1080,294 L1082,330 L1080,362 L1074,366 Q1078,340 1073,296 Z"/>
<path class="t" d="M1081,298 L1082,318 M1084,296 L1085,320 M1087,298 L1088,316 M1090,297 L1091,315 M1093,299 L1094,313 M1082,338 L1083,346 M1085,337 L1086,346 M1088,338 L1089,345 M1091,337 L1092,345 M1094,338 L1095,344" style="stroke-width:1.7"/>
<!-- lower-left body behind disc -->
<path class="w" d="M949.5,340 L950,372 Q953,378 962,379.5 L985,380 L990,350 Z" style="stroke-width:2.3"/>
<path class="t" d="M954,352 L955,372 M957,350 L958,374 M960,352 L961,375 M963,355 L964,376" style="stroke-width:1.4"/>
<!-- cap band -->
<path class="w" d="M990,198 L1026,221.5 L1073,226 L1121,222 L1154.5,206 L1173.6,206.1 L1175,215 Q1173,235 1162.7,242 Q1120,250 1070,250 Q1040,248 1030,244 Q1000,235 990,215 Z" style="stroke-width:2.4"/>
<path class="l" d="M1026,221.5 Q1040,231 1073,233 Q1120,233 1170,218" style="stroke-width:1.8"/>
<path class="w" d="M1118,233.4 L1133.8,231.5 L1134.5,242.5 L1118.5,243.5 Z" style="stroke-width:1.8"/>
<path class="t" d="M1155,214 L1157,225 M1159,212 L1161,224 M1163,210 L1165,222 M1167,209 L1169,220" style="stroke-width:1.3"/>
<!-- cap right bulge -->
<path class="w" d="M1152,130 L1166.4,134.4 Q1169,140 1168.8,148.7 L1168.8,177.4 Q1172,184 1173.6,191.7 L1174.8,206.1 L1153,206 Z" style="stroke-width:2.4"/>
<path class="t" d="M1156,140 L1157,170 M1159,145 L1160,175 M1162,148 L1163,165 M1158,195 L1159,205 M1161,192 L1162,205" style="stroke-width:1.3"/>
<!-- cap main -->
<path class="w" d="M988.5,196.5 L986,182 L985,122.5 L987.3,105.8 L984.9,65.2 Q986,59 989.7,56.8 Q995,52.5 1001.6,50.8 L1016,46 Q1025,38 1037.5,34.1 Q1055,27.5 1073.3,25.7 Q1092,25 1109.1,26.9 Q1125,29 1135.4,34.1 Q1146,40 1149.7,48.4 Q1152,57 1152.1,67.5 L1154.5,182.2 Q1155,200 1152.1,206.1 Q1140,214 1121.1,218 Q1098,222.8 1073.3,222.8 Q1045,222 1025.5,218 Q1000,210 988.5,196.5 Z" style="stroke-width:2.6"/>
<path class="l" d="M1016,46 Q1020,42 1030,42 Q1040,43 1045,40" style="stroke-width:1.6"/>
<path class="l" d="M1045,37 Q1050,35 1058,37 Q1062,40 1057,42 Q1050,43 1045,40 Z" style="stroke-width:1.6"/>
<path class="l" d="M1030.3,60.4 L1073.3,54.4 L1116.3,73.5 L1118,139" style="stroke-width:1.8"/>
<path class="l" d="M1121,72 L1123,100" style="stroke-width:1.5"/>
<path class="l" d="M1004,110.5 L1054.2,99.8 L1073.3,103.4 L1106.7,124.9" style="stroke-width:1.8"/>
<path class="l" d="M1000,114 Q1040,112 1087.6,117.7" style="stroke-width:1.6"/>
<path class="l" d="M1051.8,133.2 L1094.8,132" style="stroke-width:1.6"/>
<ellipse cx="1017.2" cy="130.8" rx="14" ry="7.5" fill="none" stroke="#000" style="stroke-width:1.8"/>
<path class="l" d="M992,72 Q987,74 987,79 Q988,84 993,84" style="stroke-width:1.8"/>
<path class="l" d="M1077,83 Q1073,85 1073,90 Q1074,95 1079,96 Q1083,95 1083,89" style="stroke-width:1.8"/>
<path class="t" d="M1073,31 L1093,42 M1076,30 L1098,43 M1080,29 L1102,44 M1084,29 L1105,45 M1088,29 L1108,46 M1092,30 L1111,48 M1096,31 L1113,50 M1100,32 L1115,52 M1104,33 L1117,54 M1108,35 L1118,56 M1070,33 L1090,44 M1068,35 L1086,46" style="stroke-width:1.3"/>
<path class="t" d="M996,76 L1010,92 M998,80 L1012,94 M999,84 L1015,97 M1000,88 L1018,99 M1001,92 L1021,101 M1003,96 L1024,102 M1005,99 L1026,103 M1000,100 L1008,107 M998,95 L1004,104 M1003,75 L1018,88 M1007,76 L1022,86" style="stroke-width:1.4"/>
<path class="t" d="M988,128 L990,160 M991,125 L993,165 M994,130 L996,170 M997,135 L999,176 M1000,138 L1002,172 M1003,140 L1005,165 M1006,142 L1008,160 M1009,145 L1011,155" style="stroke-width:1.3"/>
<path class="t" d="M1096,168 L1097,216 M1099,172 L1100,217 M1102,165 L1103,217 M1105,175 L1106,217 M1108,168 L1109,216 M1111,180 L1112,215 M1114,185 L1115,214 M1117,190 L1118,213 M1120,195 L1121,212" style="stroke-width:1.2"/>
<path class="t" d="M1100,200 L1121,200 M1100,205 L1121,205 M1100,210 L1121,210" style="stroke-width:1"/>
<path class="t" d="M1132,70 L1134,110 M1136,65 L1138,105 M1140,62 L1142,100 M1144,60 L1146,90 M1147,62 L1148,80" style="stroke-width:1.2"/>
<!-- left shoulder/clip lug -->
<path class="w" d="M989.7,56.8 Q984,62 980,75 L977.8,86.7 L970.6,103.4 L963.4,110.5 L959.9,122.5 L958.7,148.7 L968,150 L985,175 L987.3,105.8 Q985,80 989.7,56.8 Z" style="stroke-width:2.4"/>
<path class="l" d="M968,110 Q966,120 966,148" style="stroke-width:1.5"/>
<path class="t" d="M970,105 L978,112 M972,101 L980,108 M974,97 L982,104 M976,93 L983,100" style="stroke-width:1.4"/>
<path class="w" d="M956,150 L962,148 L988,176 L985,181 Z" style="stroke-width:2.2"/>
<path class="w" d="M948,176 Q945,178 945,184 L945,215 Q946,220 951,220.5 L972,220 L975,182 Q973,176 965,175.5 Z" style="stroke-width:2.4"/>
<path class="w" d="M975,182 Q975,178 980,178 L988,179 Q990,182 990,190 L990,215 L975,218 Z" style="stroke-width:2.2"/>
<path class="l" d="M979,185 L979,214" style="stroke-width:1.4"/>
<!-- arm -->
<path class="w" d="M1057.6,268.8 L1189,234.7 L1191.6,253 L1073.4,295.1 Z" style="stroke-width:2.4"/>
<path class="l" d="M1090,270 L1160,250" style="stroke-width:1.4"/>
<path class="t" d="M1062,285 L1075,280 M1063,289 L1078,284 M1066,292 L1082,287" style="stroke-width:1.4"/>
<!-- knob -->
<path class="w" d="M1187,213 Q1195,209 1205,211 L1213,217 Q1217,230 1214,245 L1207,252 Q1196,255 1189,252 Z" style="stroke-width:2.4"/>
<path class="t" d="M1197,212 L1199,252 M1200,212 L1202,252 M1203,212 L1205,252 M1206,213 L1208,251 M1209,214 L1210,250 M1212,217 L1213,247" style="stroke-width:1.4"/>
<path class="l" d="M1188,216 Q1193,230 1189,250" style="stroke-width:1.6"/>
<!-- disc rim and face -->
<ellipse cx="1011" cy="298.5" rx="62" ry="90" transform="rotate(-22 1011 298.5)" fill="#fff" stroke="#000" style="stroke-width:2.6"/>
<ellipse cx="1004" cy="297.5" rx="62" ry="90" transform="rotate(-22 1004 297.5)" fill="#fff" stroke="#000" style="stroke-width:2.4"/>
<path class="t" d="M1055,235 Q1070,260 1072,300 M1058,232 Q1073,258 1075,298" style="stroke-width:1"/>
<ellipse cx="1003" cy="299" rx="52" ry="77" transform="rotate(-22 1003 299)" fill="none" stroke="#000" style="stroke-width:1.8"/>
<path d="M971,276.7 Q978,262 995,258 Q1012,256 1025,265 Q1045,280 1048,305 Q1049,330 1040,345 Q1030,355 1015,355" fill="none" stroke="#000" style="stroke-width:1.8"/>
<!-- cone -->
<path d="M934.2,316.1 Q948,311 960.4,305.6 Q966,300 968.3,289.8 Q972,282 978.8,279.3 L1012,312 Q1014,325 1010.4,329.3 Q1005,336 999.8,337.1 Q990,336 978.8,337.1 Q965,343 952.5,347.6 L936,346 Z" fill="#fff"/>
<path class="l" d="M934.2,316.1 Q948,311 960.4,305.6 Q966,300 968.3,289.8 Q972,282 978.8,279.3" style="stroke-width:2.4"/>
<path class="l" d="M952.5,347.6 Q965,343 978.8,337.1 Q990,336 999.8,337.1 Q1005,336 1010.4,329.3" style="stroke-width:2.4"/>
<path class="t" d="M985,308 L989,316 M989,304 L993,314 M993,300 L997,312 M997,297 L1001,310 M1001,294 L1005,308 M1005,291 L1009,306 M1009,288 L1013,303 M1013,285 L1017,300 M1017,283 L1021,297 M1021,281 L1025,293 M1025,280 L1028,289 M1030,300 L1033,320 M1034,298 L1037,322 M1038,297 L1041,323 M1042,300 L1044,320" style="stroke-width:1.1"/>
<path class="t" d="M955,312 L958,318 M958,311 L961,317 M961,309 L964,314 M945,346 L950,340 M948,347 L952,342 M983,336 L986,341 M987,335 L990,340" style="stroke-width:1.1"/>
<!-- nipple -->
<path class="w" d="M929,320 Q936,314 944,316 Q951,322 952,331 Q953,339 951,342 Q944,347 936,345.5 Z" style="stroke-width:2.4"/>
<path class="t" d="M934,318 Q942,325 941,345 M938,317 Q946,324 945,345.5 M942,316.5 Q949,324 948,344" style="stroke-width:1.6"/>
<path class="w" d="M909.6,333.7 L930.3,324.9 Q936,333 935,344.8 L913.5,352 Z" style="stroke-width:2.4"/>
<path class="t" d="M915,332 Q920,340 918,350.5 M919,330.5 Q924,338 922,349.5 M923,329 Q928,336 926,348 M927,327.5 Q932,334 930,346.5" style="stroke-width:1.8"/>
<ellipse class="w" cx="912.5" cy="343" rx="4.6" ry="8.5" transform="rotate(-20 912.5 343)" style="stroke-width:2.4"/>
<path class="l" d="M910.5,341 Q913,339 914.5,343 Q913,346 911,345" style="stroke-width:1.2"/>
<line class="l" x1="940" y1="131" x2="958.7" y2="134.4" style="stroke-width:1.8"/>
</g>

<!-- ring 25 top -->
<g>
<ellipse cx="1036.7" cy="590.8" rx="39" ry="16.5" fill="none" stroke="#000" style="stroke-width:2.6"/>
<ellipse cx="1036.7" cy="591.5" rx="30.5" ry="10" fill="none" stroke="#000" style="stroke-width:2.4"/>
<line class="l" x1="991" y1="578" x2="1002" y2="583" style="stroke-width:1.8"/>
</g>
<!-- plate 26 top -->
<g>
<path class="w" d="M931.6,666 L966,641.2 Q985,643 1004.7,646.6 L1030.5,648.7 Q1042,650 1049.8,652 Q1056,646 1062.7,645.5 L1095,643.4 L1122.9,644.4 Q1129,647 1130.4,653 L1132.6,663.8 Q1131,670 1127.2,674.5 Q1120,681 1114.3,687.4 Q1105,693 1095,698.2 Q1085,703 1073.5,706.8 Q1057,710 1041.2,713.2 Q1035,716 1030.5,719.7 Q1020,723 1009,725 Q993,726.5 976.7,726.1 Q965,726 957.4,724 Q952,720 950.9,715.4 Q948,708 948.8,702.5 Q951,698 955.2,696 Q960,692 963.8,689.6 Q966,685 966,681 Q958,679 950.9,677.8 Q940,676 931.6,674.5 Z" style="stroke-width:2.6"/>
<ellipse cx="1039.5" cy="681" rx="49" ry="17" transform="rotate(-4 1039.5 681)" fill="#fff" stroke="#000" style="stroke-width:2.6"/>
<path class="t" d="M1015,667 L1016,671 M1018,666 L1019,670 M1021,665 L1022,669 M1024,665 L1025,669" style="stroke-width:1.5"/>
<ellipse cx="1100" cy="659.5" rx="16" ry="4.8" transform="rotate(12 1100 659.5)" fill="#fff" stroke="#000" style="stroke-width:2.4"/>
<ellipse cx="979" cy="707.5" rx="17" ry="5.2" transform="rotate(17 979 707.5)" fill="#fff" stroke="#000" style="stroke-width:2.4"/>
<path class="l" d="M966,689.6 Q1000,698 1030.5,706.8" style="stroke-width:1.5"/>
<path class="l" d="M962,688 L1010,701" style="stroke-width:1.2"/>
<path class="t" d="M944,666 L960,673 M947,664 L965,671 M950,662 L968,669 M953,660 L970,667 M956,659 L972,665 M960,658 L974,663" style="stroke-width:1.4"/>
<path class="t" d="M968,645 L990,652 M972,644 L995,651 M976,644 L1000,652 M980,645 L1005,653 M984,645 L1008,654" style="stroke-width:1.3"/>
<path class="l" d="M960,652 L1005,663 Q1015,668 1020,670 Q1025,666 1049.8,652" style="stroke-width:1.8"/>
<path class="t" d="M1117,681 L1119,684 M1119,678 L1121,681 M1121,675 L1123,678 M1124,672 L1126,675" style="stroke-width:2"/>
<line class="l" x1="1131" y1="676.6" x2="1143" y2="682" style="stroke-width:1.8"/>
</g>
<!-- clamp bolt -->
<g>
<path class="w" d="M991.8,617 L1003,614.5 Q1008,617 1007,625 Q1005,631 1000,631.5 L993,633 Z" style="stroke-width:2.2"/>
<path class="t" d="M995,616 Q999,622 996,632 M998,615.5 Q1002,621 999,631.5 M1001,615 Q1005,620 1003,630" style="stroke-width:1.4"/>
<path class="w" d="M938,631.5 L974.6,618.6 L978,637 L941,652 Z" style="stroke-width:2.2"/>
<path class="w" d="M970.3,617 L980,613.5 L989,614.3 L991.8,621 L991.8,631 L984,635.8 L975,638 L970.5,635 Z" style="stroke-width:2.2"/>
<path class="l" d="M978,614 L978,637 M970.5,624 L991.8,620" style="stroke-width:1.4"/>
<path class="t" d="M955,632 L960,640 M958,630 L963,638 M961,629 L966,637" style="stroke-width:1.4"/>
<path class="w" d="M903.6,648.7 L935.9,635.8 L942,652 L935,667 L903.6,676.7 Z" style="stroke-width:2.3"/>
<path class="l" d="M920,642 L924,672" style="stroke-width:1.6"/>
<path class="w" d="M932,641 Q937,636 942,641 L945,660 Q942,668 936,667 Z" style="stroke-width:2"/>
<path class="t" d="M925,660 L933,667 M927,657 L934,663 M929,655 L935,660 M908,667 L915,672 M911,664 L918,669" style="stroke-width:1.3"/>
<ellipse class="w" cx="901.5" cy="663.5" rx="10" ry="13" transform="rotate(-10 901.5 663.5)" style="stroke-width:2.4"/>
</g>
<!-- bolt 27 top -->
<g>
<path class="w" d="M819.4,626 L819.4,672 Q826,677 833,672 L833,626 Z" style="stroke-width:2.6"/>
<path class="t" d="M821,632 L831,633 M821,635.5 L831,636.5 M821,639 L831,640 M821,642.5 L831,643.5 M821,646 L831,647 M821,649.5 L831,650.5 M821,653 L831,654 M821,656.5 L831,657.5 M821,660 L831,661 M821,663.5 L831,664.5 M821,667 L831,668 M821,670.5 L831,671" style="stroke-width:2"/>
<path class="k" d="M828,630 L833,630 L833,672 L829,673 Z"/>
<path class="w" d="M812,612 Q812,606 826,606 Q839.8,606 839.8,612 L839.8,624 L836,630 L816,630 L812,624 Z" style="stroke-width:2.6"/>
<path class="l" d="M812.5,619 Q826,623 839.5,619 M818,621 L815.5,629 M834,621 L836.5,629" style="stroke-width:1.5"/>
<path class="t" d="M836,622 L838,628 M834,624 L836,629" style="stroke-width:1.5"/>
<line class="l" x1="804" y1="641" x2="819.4" y2="643" style="stroke-width:1.8"/>
</g>
<!-- washer 28 top -->
<g>
<ellipse class="w" cx="826" cy="693.5" rx="14.5" ry="8.5" style="stroke-width:3"/>
<ellipse cx="826" cy="693" rx="6.5" ry="3.5" fill="none" stroke="#000" style="stroke-width:2.6"/>
<path class="k" d="M820,698 L825,697 L826,703 L821,704 Z"/>
<line class="l" x1="797.5" y1="684" x2="811" y2="690.6" style="stroke-width:1.8"/>
</g>
<!-- washer 29 top -->
<g>
<path class="w" d="M811,716 L811,720 Q813,727.5 826,727.5 Q839,727.5 841,720 L841,716 Z" style="stroke-width:2.6"/>
<ellipse class="w" cx="826" cy="715.5" rx="15" ry="9" style="stroke-width:2.8"/>
<ellipse cx="826" cy="716" rx="6.5" ry="4" fill="none" stroke="#000" style="stroke-width:2.8"/>
<line class="l" x1="790.5" y1="714" x2="811" y2="717" style="stroke-width:1.8"/>
</g>

<!-- Part 16 cap in box -->
<g>
<path d="M509,800 L647,800 L647,803 L509,803 Z" fill="#fff"/>
<!-- body -->
<path class="w" d="M500.9,811.9 Q498,820 498.5,832.6 L499.3,870.8 L493.8,870.8 L493.8,904.2 Q500,912 508.9,915.4 Q520,917 532.8,917 Q548,921.5 564.6,923.3 Q580,923.5 596.5,921.8 Q614,918.5 628.3,913.8 Q643,908 653.8,901 L666.5,891.5 L667.3,872.4 L658.6,866 L658.6,818.2 Q657,814.5 653.8,813.5 L647.4,815 L600,820 L545.5,789.6 L508.9,803.9 Z" style="stroke-width:2.6"/>
<path class="l" d="M499.3,870.8 Q503,873 508.9,873 L508.9,915" style="stroke-width:2"/>
<path class="l" d="M658.6,866 Q660,880 653.8,901" style="stroke-width:1.8"/>
<path class="l" d="M500.5,819.8 L513.7,821.4 L515,818 L518,826 L524.8,831" style="stroke-width:1.8"/>
<path class="l" d="M508.9,834.2 L508.9,888.3" style="stroke-width:1.8"/>
<path class="l" d="M504,826 L504,870" style="stroke-width:1.4"/>
<path class="t" d="M496,876 L503,890 M497,885 L505,898 M499,895 L506,905 M502,880 L506,885" style="stroke-width:1.4"/>
<path class="t" d="M513,860 L513,905 M516,862 L516,910 M519,858 L519,912 M522,865 L522,914 M525,870 L525,915 M528,885 L528,916 M531,890 L531,916 M515,890 L525,893" style="stroke-width:1.3"/>
<path class="t" d="M607,862 L640,883 M607,868 L636,887 M609,874 L632,889 M612,879 L628,889 M610,858 L640,877 M615,857 L641,872 M620,857 L641,867" style="stroke-width:1.2"/>
<path class="t" d="M611,858 L608,881 M616,857 L613,884 M621,857 L618,886 M626,858 L623,888 M631,860 L628,889 M636,862 L633,889 M640,864 L638,887" style="stroke-width:1.2"/>
<path class="t" d="M640,855 L641,880 M643,850 L645,885 M647,840 L648,888 M650,835 L651,890 M653,833 L654,888 M656,832 L656,880" style="stroke-width:1.3"/>
<path class="t" d="M657,872 L660,890 M660,874 L663,888 M663,876 L665,887" style="stroke-width:1.3"/>
<!-- raised center platform -->
<path class="w" d="M547.1,791.2 Q550,785 556.7,783.2 L600,782 Q608,786 610.8,791.2 L612.4,819.8 Q600,828 580.5,832 Q565,832.6 560,830 L547,820 Z" style="stroke-width:2.2"/>
<path class="t" d="M600,805 L601,820 M603,800 L604,822 M606,798 L607,822 M609,800 L610,820" style="stroke-width:1.4"/>
<!-- back-left tower -->
<path class="w" d="M511.3,776 L511.3,810 Q520,813 527,813 Q537,813 543.9,810 L543.9,776 Z" style="stroke-width:2.4"/>
<ellipse class="w" cx="527.2" cy="776" rx="16.3" ry="6.5" style="stroke-width:2.4"/>
<path class="l" d="M520,775 Q526,771 534,774" style="stroke-width:1.6"/>
<path class="t" d="M538,784 L539,800 M540,785 L541,802" style="stroke-width:1.6"/>
<!-- center tower -->
<path class="w" d="M563,757.7 L563,792 Q570,797 579,797 Q590,796 594.9,792 L594.9,757.7 Z" style="stroke-width:2.4"/>
<ellipse class="w" cx="578.9" cy="757.7" rx="16" ry="6.3" style="stroke-width:2.4"/>
<path class="l" d="M571,757 Q577,753 586,756" style="stroke-width:1.6"/>
<path class="t" d="M584,765 L585,785 M587,765 L588,787 M590,768 L591,788" style="stroke-width:1.6"/>
<!-- back-right tower -->
<path class="w" d="M594.9,762.5 L594.9,792 L621.1,795 L621.1,762.5 Z" style="stroke-width:2.4"/>
<ellipse class="w" cx="608" cy="762.5" rx="13.3" ry="5.5" style="stroke-width:2.4"/>
<path class="l" d="M601,762 Q607,758.5 614,761" style="stroke-width:1.5"/>
<path class="t" d="M612,770 L613,790 M615,772 L616,792 M618,770 L619,788" style="stroke-width:1.5"/>
<!-- front-left tower -->
<path class="w" d="M535.2,806.3 L535.2,840 Q538,846 545,848 Q553,849 560,846 Q568,842 568.6,836 L568.6,806.3 Z" style="stroke-width:2.4"/>
<ellipse class="w" cx="551.9" cy="806.3" rx="16.5" ry="6.2" style="stroke-width:2.4"/>
<path class="l" d="M544,806 Q551,802 559,805" style="stroke-width:1.6"/>
<path class="t" d="M561,814 L562,830 M564,814 L565,832" style="stroke-width:1.6"/>
<!-- front-right tower -->
<path class="w" d="M614,796 L614,830 Q620,837 630,837.4 Q641,837 645.8,830 L645.8,796 Z" style="stroke-width:2.4"/>
<ellipse class="w" cx="629.9" cy="796" rx="16" ry="6.2" style="stroke-width:2.4"/>
<path class="l" d="M622,795 Q629,791 637,794" style="stroke-width:1.6"/>
<path class="t" d="M637,805 L638,823 M640,806 L641,825" style="stroke-width:1.6"/>
<line class="l" x1="655.4" y1="901.8" x2="666.5" y2="909" style="stroke-width:1.8"/>
</g>
<!-- Part 17 pin -->
<g>
<path class="w" d="M574,956 L574,974 Q580,978.5 586.8,974 L586.8,956 Z" style="stroke-width:2.2"/>
<path class="k" d="M575,937 Q580,932.5 586,937 L586.5,957 Q580,959.5 574.5,957 Z"/>
<path d="M577,941 L583,940 M577,945 L583,944 M577,949 L583,948 M577,953 L583,952" stroke="#fff" style="stroke-width:1"/>
<path class="t" d="M576,962 L576,972" style="stroke-width:1.2"/>
<line class="l" x1="555.7" y1="967.5" x2="574" y2="967.5" style="stroke-width:1.8"/>
</g>
<!-- Part 18 rotor -->
<g>
<path class="w" d="M555.7,986.2 Q558,982 563.7,979.8 Q568,978 572,978 L590.8,977 Q598,978.5 603.5,981.4 Q609,985 614.6,989.4 Q620,994 624.2,998.9 L628.2,1003.7 Q629,1007 627.4,1008.5 L611.5,1011.7 L605.9,1010 L605.9,1027 Q600,1032 595.5,1032.4 Q588,1034.5 579.6,1034.7 Q570,1034.5 563.7,1032.4 Q557,1030 554.9,1026 L554.9,988 Z" style="stroke-width:2.4"/>
<path class="l" d="M555.7,991 Q562,996 571.7,998.9 Q580,1002 589.2,1003.7 Q597,1006 603.5,1008.5 L605.9,1010" style="stroke-width:2"/>
<path class="l" d="M573.2,987.8 Q573,984 576,984 Q580,984 584.4,986.2 Q590,988 595.5,989.4 L603.5,994.1 Q608,997 611.5,998.9 Q616,1000 619.4,1000.5 L619.5,1004 Q610,1004 603,1001 Q595,996 588,994 Q580,992.5 575,990 Z" style="stroke-width:1.7"/>
<circle cx="591" cy="994" r="1.8" fill="none" stroke="#000" style="stroke-width:1.2"/>
<path class="t" d="M556,994 L557,1008 M559,995 L560,1012 M562,996 L563,1014 M565,997 L566,1012 M568,998 L569,1010 M571,999 L572,1011 M574,1000 L575,1008" style="stroke-width:1.5"/>
<path class="k" d="M578,1028 Q590,1020 605,1017 L605.5,1027 Q600,1032 595,1032 L580,1030 Z"/>
<path d="M587,1028 L589,1024 M591,1028 L593,1024 M596,1026 L598,1022" stroke="#fff" style="stroke-width:1"/>
<path class="l" d="M606,1010 L628,1007" style="stroke-width:1.8"/>
<line class="l" x1="535.8" y1="1012.5" x2="555" y2="1012.5" style="stroke-width:1.8"/>
</g>
<!-- Part 20 screw -->
<g>
<path class="w" d="M637,1026 L637.5,1040 Q640,1044 643,1040 L643.3,1026 Z" style="stroke-width:2"/>
<path class="t" d="M638,1031 L642,1032 M638,1035 L642,1036" style="stroke-width:1"/>
<ellipse class="w" cx="638.5" cy="1023.8" rx="7.3" ry="4" style="stroke-width:2.2"/>
<path class="l" d="M635,1023 Q638.5,1021 642,1023" style="stroke-width:1.2"/>
<line class="l" x1="644.1" y1="1031.6" x2="660.8" y2="1030.3" style="stroke-width:1.8"/>
</g>

<!-- Part 23 baseplate -->
<g>
<path class="w" d="M513.8,1166.8 Q513,1175 516,1179.7 Q522,1186 531,1190.5 Q545,1194.5 559,1196.9 L566,1197 L567,1193 L571,1193 L572,1197 L602,1196.9 Q620,1193 634.2,1188.3 Q642,1182 645,1175.4 L645,1165 L600,1160 L520,1160 Z" style="stroke-width:2.5"/>
<path class="l" d="M520,1178 Q540,1182 556,1183 M600,1188 Q620,1186 632,1180" style="stroke-width:1.3"/>
<path class="w" d="M621,1178 L632,1175 L634,1180 L623,1183 Z" style="stroke-width:1.6"/>
<path class="t" d="M520,1170 L530,1173 M523,1167 L533,1170 M528,1166 L538,1169" style="stroke-width:1.3"/>
<path class="w" d="M518.1,1141 Q524,1134 533.2,1130.3 Q545,1127 559,1126 L591.2,1126 Q606,1128 619.2,1132.4 Q630,1137 636.4,1143.2 Q642,1149 642.8,1156.1 Q643,1163 640.7,1169 Q636,1174 625,1176.5 Q605,1179 585,1178.5 Q560,1177 540,1172 Q525,1168 519,1161 Q515,1150 518.1,1141 Z" style="stroke-width:2.5"/>
<ellipse class="w" cx="578.3" cy="1154" rx="25" ry="11.5" style="stroke-width:2.2"/>
<ellipse cx="578.3" cy="1153" rx="21" ry="9" fill="none" stroke="#000" style="stroke-width:1.8"/>
<ellipse cx="579" cy="1157" rx="14" ry="4.5" fill="none" stroke="#000" style="stroke-width:1.8"/>
<ellipse cx="627.8" cy="1148.6" rx="6.5" ry="3.3" fill="none" stroke="#000" style="stroke-width:1.8"/>
<path class="l" d="M620,1164 Q626,1166 632,1163" style="stroke-width:1.8"/>
<path class="t" d="M540,1133 L555,1142 M545,1131 L562,1141 M551,1130 L570,1140 M557,1129 L578,1139 M563,1129 L585,1139 M570,1128 L592,1137 M577,1128 L598,1136 M585,1129 L605,1136 M593,1130 L610,1137 M542,1130 L552,1136 M548,1128.5 L560,1135 M554,1128 L567,1135 M560,1127.5 L574,1134 M566,1127 L581,1133 M573,1127 L588,1132 M580,1127 L595,1132" style="stroke-width:1.5"/>
<path class="t" d="M533,1136 L540,1142 M530,1140 L537,1146 M528,1144 L534,1150" style="stroke-width:1.2"/>
<circle cx="596" cy="1134" r="3.5" fill="none" stroke="#000" style="stroke-width:1.6"/>
<path class="w" d="M544,1167 Q548,1164 553,1166 L557,1172 Q553,1176 548,1174 Z" style="stroke-width:1.6"/>
<circle cx="549.5" cy="1169.5" r="1.8" fill="#000"/>
<path class="w" d="M639,1159 L645,1160 L646,1172 L640,1172 Z" style="stroke-width:1.6"/>
<line class="l" x1="621.3" y1="1194.8" x2="626.7" y2="1204.4" style="stroke-width:1.8"/>
</g>
<!-- condenser wire loop left -->
<g>
<path class="l" d="M524.6,1113.1 Q524,1125 526.7,1136.7 Q530,1148 537.5,1156 Q543,1163 550.4,1169" style="stroke-width:2"/>
<path class="l" d="M528.6,1113 Q528,1125 531,1136 Q534,1146 541,1153 Q546,1159 553,1165" style="stroke-width:1.6"/>
</g>
<!-- Part 21 condenser -->
<g>
<path class="l" d="M526.7,1078 Q532,1063 541.8,1057.2 Q550,1052 559,1052.9" style="stroke-width:2"/>
<path class="l" d="M530,1080 Q535,1067 544,1061 Q551,1057 558,1057" style="stroke-width:1.4"/>
<path class="w" d="M553,1055 Q560,1052 566,1054 Q569,1058 567.6,1063 Q563,1066 556,1065.8 Q552,1062 553,1055 Z" style="stroke-width:2"/>
<circle cx="560" cy="1059" r="1.5" fill="#000"/>
<path class="w" d="M522.4,1081.9 L559,1076.5 Q565,1078 565,1085 Q565,1095 559,1102.3 L531,1111 Z" style="stroke-width:2.4"/>
<path class="t" d="M530,1084 L536,1090 M534,1083 L540,1089 M538,1082 L544,1087 M549,1092 L553,1100 M552,1090 L556,1098 M555,1088 L558,1096" style="stroke-width:1.5"/>
<path class="t" d="M541,1081 L547,1080 M545,1083 L550,1082" style="stroke-width:1.5"/>
<ellipse class="w" cx="525.7" cy="1098" rx="9" ry="12" transform="rotate(-15 525.7 1098)" style="stroke-width:2.4"/>
<path class="l" d="M520,1095 Q524,1090 530,1093" style="stroke-width:1.6"/>
<path class="w" d="M561,1082 L564,1081 L565,1089 L562,1090 Z" style="stroke-width:1.2"/>
<line class="l" x1="509.5" y1="1081.9" x2="520.3" y2="1087.3" style="stroke-width:1.8"/>
</g>
<!-- main lead wire (condenser -> clip -> down -> connector -> terminal) -->
<g>
<path class="l" d="M533,1106 Q545,1113 559,1113 Q580,1116 602,1115 Q625,1112 645,1108.5 Q660,1105 668,1101" style="stroke-width:2.1"/>
<path class="l" d="M535,1112 Q546,1119 559,1118.5 Q580,1121 602,1120 Q626,1117 646,1113.5 Q660,1110 668,1107" style="stroke-width:2.1"/>
<path class="w" d="M666.5,1102.5 Q668,1100 672,1100 L678,1101.5 Q680,1105 679,1110 L676,1112 L679,1118 L679.4,1128 L672,1130.3 L668,1128 L668,1112 Z" style="stroke-width:2.1"/>
<path class="t" d="M670,1115 L677,1116 M670,1120 L677,1121" style="stroke-width:1.3"/>
<path class="l" d="M669,1128 Q657,1131 653.6,1136.7 Q650,1145 650.5,1158.2 Q651,1175 653.6,1186.2 Q657,1197 662.2,1203.4 Q669,1210 677.2,1212 L684,1211" style="stroke-width:2.1"/>
<path class="l" d="M674,1131 Q662,1135 658.5,1140 Q655,1148 655.5,1158 Q656,1175 658.5,1185 Q662,1195 666,1200 Q672,1206 680,1207 L685,1206" style="stroke-width:2.1"/>
<!-- in-line connector -->
<path class="w" d="M687,1203 Q694,1201 699,1205 L716,1210 L726,1216 Q729,1220 725,1225 L713,1225 L695,1223 Q689,1224 686.5,1218 Q684,1210 687,1203 Z" style="stroke-width:2.3"/>
<path class="l" d="M693,1204 Q690,1212 693,1223" style="stroke-width:1.8"/>
<path class="l" d="M701,1206 Q699,1214 701,1224" style="stroke-width:1.4"/>
<path class="l" d="M716,1210.5 Q714,1217 716,1225" style="stroke-width:1.8"/>
<path class="t" d="M703,1218 L713,1221 M702,1221 L712,1224 M705,1215 L712,1218" style="stroke-width:1.6"/>
<!-- wire down to terminal -->
<path class="l" d="M727,1218 C741,1226 752,1243 751,1262 C750,1282 745,1300 750,1313 C756,1327 773,1333 800,1333" style="stroke-width:2.1"/>
<path class="l" d="M721,1225 C734,1233 743,1248 742.5,1262 C742,1280 737,1300 742,1317 C748,1337 770,1343 800,1343" style="stroke-width:2.1"/>
<!-- terminal -->
<path class="w" d="M800,1331 Q812,1329 822,1331 L826,1336 L830,1333 L845,1332.5 Q850,1334 849.5,1339 Q849,1344 845,1345 L830,1345 L825,1343 L822,1347.5 Q812,1348 800,1345 Z" style="stroke-width:2.2"/>
<ellipse cx="838" cy="1338.5" rx="3" ry="2" fill="#000"/>
<path class="t" d="M812,1337 L815,1340 M817,1341 L819,1343 M819,1334 L821,1337" style="stroke-width:1.5"/>
<!-- Part 19 contact set -->
<g>
<path class="w" d="M589.3,1047.1 Q597,1045 605.9,1045.6 Q618,1047 628.6,1050.1 Q639,1054 645.2,1060.7 Q650,1066 649.8,1072.8 Q650,1079 649,1084.9 Q647,1091 643.7,1095.5 Q639,1100 633.1,1103.1 L633.1,1104.6 L574.1,1106.1 Q572,1090 575.6,1077.4 L571.1,1062.2 Q580,1055 589.3,1047.1 Z" style="stroke:none"/>
<path class="l" d="M589.3,1047.1 Q597,1045 605.9,1045.6 Q618,1047 628.6,1050.1 Q639,1054 645.2,1060.7 Q650,1066 649.8,1072.8 Q650,1079 649,1084.9 Q647,1091 643.7,1095.5 Q639,1100 633.1,1103.1" style="stroke-width:2.5"/>
<path class="l" d="M605.9,1049.4 Q618,1051 627.1,1054.7 Q636,1058 640.7,1063.7 Q644,1069 643.7,1074.3 Q644,1080 642.2,1084.9 Q640,1090 636.2,1094" style="stroke-width:1.8"/>
<path class="t" d="M640,1080 L645,1078 M639,1084 L645,1083 M637,1088 L644,1087 M635,1092 L642,1091 M634,1096 L640,1096" style="stroke-width:1.5"/>
<!-- left arm -->
<path class="w" d="M571.1,1062.2 Q580,1058 596.8,1057.7 L599.8,1072.8 L578.7,1072.8 Q572,1068 571.1,1062.2 Z" style="stroke-width:2.3"/>
<!-- pivot post -->
<path class="w" d="M589.5,1047 L589.5,1058 Q595,1061 601.4,1058 L601.4,1047 Z" style="stroke-width:2.2"/>
<ellipse class="w" cx="595.4" cy="1046.5" rx="6" ry="2.8" style="stroke-width:2"/>
<path class="l" d="M590,1052 L601,1052" style="stroke-width:1.3"/>
<!-- blocks -->
<path class="w" d="M602.9,1060 Q610,1057 620,1057.7 L628.6,1062 L628.6,1078 L615,1080.4 L603,1079 Z" style="stroke-width:2.3"/>
<path class="l" d="M607,1062 L607,1078 M603,1066 L628,1064" style="stroke-width:1.5"/>
<path class="w" d="M575.6,1080 Q582,1077 590,1077.4 L596.8,1081 L596.8,1106 L576,1106.1 Q574,1093 575.6,1080 Z" style="stroke-width:2.3"/>
<path class="l" d="M584,1090 L584.5,1094" style="stroke-width:1.4"/>
<path class="w" d="M596.8,1087 Q604,1084 612,1085 L615,1088 L615,1106.1 L596.8,1106.1 Z" style="stroke-width:2.3"/>
<path class="t" d="M598,1092 L613,1090 M599,1096 L613,1095" style="stroke-width:1.3"/>
<path class="w" d="M615,1083 Q622,1080 630,1081.5 L633.1,1088 L633.1,1104.6 L615,1106 Z" style="stroke-width:2.3"/>
<circle cx="622.5" cy="1098.5" r="2.6" fill="#000"/>
<path class="k" d="M596.5,1060 L602.9,1060 L603,1079 L599.8,1080 Z"/>
<path class="k" d="M571.5,1064 L574,1070 L578.7,1073 L575.6,1078 Q572,1072 571.5,1064 Z"/>
<path class="t" d="M577,1100 L581,1104 M580,1100 L585,1104 M587,1098 L591,1103 M617,1086 L620,1090 M626,1085 L630,1089" style="stroke-width:1.4"/>
<path class="t" d="M606,1101 L609,1104 M609,1100 L612,1104 M600,1100 L603,1104" style="stroke-width:1.4"/>
<path class="l" d="M574.1,1106.1 L633.1,1104.6" style="stroke-width:2.5"/>
<line class="l" x1="649.5" y1="1073" x2="662.2" y2="1074.4" style="stroke-width:1.8"/>
</g>
<!-- Part 22 screw -->
<g>
<path class="k" d="M472,1141 L478.5,1141 L477,1160 L475,1165 L473,1160 Z"/>
<path d="M472.5,1146 L477.5,1147 M472.5,1151 L477.5,1152 M473,1156 L477,1157" stroke="#fff" style="stroke-width:1"/>
<ellipse cx="475.1" cy="1137.8" rx="9" ry="5" fill="#000"/>
<path d="M470,1137 Q475,1134 480,1136" stroke="#fff" fill="none" style="stroke-width:1.2"/>
<line class="l" x1="460" y1="1156" x2="470.8" y2="1151.8" style="stroke-width:1.8"/>
</g>

<!-- shaft assembly (between 23 and body) -->
<g>
<!-- top tip -->
<path class="w" d="M570.2,1218 L570.5,1208 Q571,1205.5 579.5,1205.5 Q588,1205.5 588.8,1208 L588.8,1218 Z" style="stroke-width:2"/>
<path class="t" d="M574,1209 L576,1214 M583,1208 L584,1212" style="stroke-width:1"/>
<!-- upper cylinder -->
<path class="w" d="M562.3,1221.5 L562.3,1243 L595.3,1243 L595.3,1221.5 Q590,1217 578.8,1217.5 Q567,1217 562.3,1221.5 Z" style="stroke-width:2.4"/>
<path class="l" d="M563,1223 Q578.8,1228 595,1223" style="stroke-width:1.8"/>
<path class="t" d="M590,1227 L591,1242 M592,1225 L593,1242 M567,1238 L572,1242 M568,1240 L571,1236" style="stroke-width:1.6"/>
<path class="k" d="M585,1228 L592,1227 L593,1237 L587,1236 Z"/>
<!-- cam -->
<path class="w" d="M555.2,1246 L555.2,1275 Q565,1280 578.1,1280 Q592,1280 600.3,1275 L600.3,1246 Q590,1241 577.4,1241 Q562,1241 555.2,1246 Z" style="stroke-width:2.4"/>
<path class="l" d="M556,1247 Q578,1254 600,1247" style="stroke-width:1.8"/>
<path class="t" d="M562,1252 L562,1276 M566,1253 L566,1278 M589,1253 L589,1278 M594,1252 L595,1276 M596,1251 L597,1275 M598,1250 L599,1274 M557,1265 L559,1274" style="stroke-width:1.4"/>
<!-- lower shaft -->
<path class="w" d="M562.3,1279 L562.3,1303 L596,1303 L596,1279 Z" style="stroke-width:2.3"/>
<path class="t" d="M588,1283 L589,1300 M591,1282 L592,1300 M593,1285 L594,1298" style="stroke-width:1.4"/>
<!-- weights plate lower right weight -->
<path class="w" d="M598.9,1326.1 Q620,1325 636.1,1329 L637.6,1340 Q637,1346 636.1,1344.7 Q632,1352 624.7,1354.8 Q614,1356 603.2,1353.3 Z" style="stroke-width:2.2"/>
<path class="l" d="M603,1344 L620,1346 L630,1344" style="stroke-width:1.4"/>
<!-- left weight plate -->
<path class="w" d="M520,1319 Q540,1320 560,1322 L590,1328 Q605,1330 606,1333.3 L608.9,1344.7 Q605,1349 600.3,1350.5 L563.1,1350.5 Q545,1348 528.7,1341.9 Q521,1336 519.3,1329 Z" style="stroke-width:2.4"/>
<path class="l" d="M538,1326 Q545,1330 560,1331 Q580,1331 598,1334 Q604,1336 605,1340" style="stroke-width:1.6"/>
<path class="t" d="M550,1329 L551,1336 M553,1328 L554,1336 M556,1328 L557,1337 M559,1328 L560,1337 M562,1329 L563,1338 M565,1329 L566,1338 M568,1329 L569,1338 M571,1329 L572,1338 M574,1329 L575,1339 M577,1330 L578,1339 M580,1330 L581,1339 M583,1331 L584,1339 M586,1331 L587,1339 M589,1332 L590,1339 M592,1333 L593,1339" style="stroke-width:1.8"/>
<path class="t" d="M521,1330 L526,1339 M524,1328 L529,1337 M527,1327 L532,1336 M522,1335 L527,1343 M530,1326 L534,1333" style="stroke-width:1.6"/>
<!-- hub -->
<path class="w" d="M563,1303 L563,1320 Q578,1325 595,1320 L595,1303 Z" style="stroke-width:2.2"/>
<path class="t" d="M566,1306 L566,1318 M590,1306 L591,1319" style="stroke-width:1.4"/>
<!-- posts -->
<path class="w" d="M528,1298 L528,1311 Q532,1314 536,1311 L536,1298 Z" style="stroke-width:2"/>
<path class="w" d="M549,1303 L549,1317 Q555,1320 561,1317 L561,1303 Z" style="stroke-width:2"/>
<ellipse class="w" cx="555" cy="1302" rx="6" ry="3" style="stroke-width:2"/>
<path class="w" d="M619.5,1310 L619.5,1323 Q625.5,1326 631.5,1323 L631.5,1310 Z" style="stroke-width:2"/>
<ellipse class="w" cx="625.5" cy="1309" rx="6" ry="3" style="stroke-width:2"/>
<!-- springs -->
<path class="w" d="M527,1295 L540,1292 L555,1297 L560,1303 L548,1303 L535,1300 L528,1301 Z" style="stroke-width:2"/>
<path class="k" d="M530,1293 L538,1292 L540,1297 L531,1299 Z"/>
<path class="w" d="M598,1302 L604,1298 L620,1302 L630,1306 L624,1309 L605,1306 Z" style="stroke-width:2"/>
<path class="t" d="M606,1300 L605,1306 M609,1301 L608,1307 M612,1302 L611,1307 M615,1302 L614,1308" style="stroke-width:1.4"/>
<!-- shaft below plate -->
<path class="w" d="M563.1,1351 L563.1,1372 L593.2,1372 L593.2,1351 Z" style="stroke-width:2.2"/>
<path class="t" d="M566,1354 L567,1370 M570,1356 L571,1370 M588,1354 L589,1370" style="stroke-width:1.3"/>
<!-- washer ring -->
<ellipse cx="578.8" cy="1370.5" rx="24.4" ry="7" fill="none" stroke="#000" style="stroke-width:2.4"/>
<ellipse cx="578.8" cy="1370" rx="19" ry="4.5" fill="none" stroke="#000" style="stroke-width:1.6"/>
<path class="w" d="M566,1374 L566,1386 L590,1386 L590,1374 Q578,1378 566,1374 Z" style="stroke:none"/>
<path class="l" d="M566,1374 L566,1386 M590,1374 L590,1386" style="stroke-width:2.2"/>
<path class="t" d="M568,1378 L580,1379 M568,1382 L582,1383" style="stroke-width:1.3"/>
</g>
<!-- body housing -->
<g>
<!-- lower body (taper) -->
<path class="w" d="M515.5,1530 Q516,1550 522.5,1557.5 Q530,1565 534.8,1568 Q538,1574 540.1,1580.3 Q544,1588 547.1,1592.5 L548.8,1612 L601.4,1613.6 L603.1,1597.8 Q612,1592 617.1,1587.3 Q620,1580 622.4,1575 Q625,1568 627.6,1562.8 Q634,1552 638.2,1540 L640,1520 L515,1520 Z" style="stroke-width:2.5"/>
<path class="l" d="M524.3,1561 Q550,1572 575.1,1571.5 Q605,1571 627.6,1561" style="stroke-width:1.8"/>
<path class="l" d="M540,1582 Q575,1592 617,1585" style="stroke-width:1.8"/>
<path class="l" d="M544,1589 Q575,1598 610,1592" style="stroke-width:1.8"/>
<path class="l" d="M546,1597 Q575,1606 605,1600" style="stroke-width:1.8"/>
<path class="l" d="M548,1605 Q575,1613 602,1607" style="stroke-width:1.6"/>
<path class="t" d="M517,1540 L522,1556 M520,1538 L525,1553 M523,1540 L528,1556 M527,1546 L532,1560 M531,1548 L535,1562" style="stroke-width:1.3"/>
<path class="t" d="M612,1570 L618,1575 M615,1567 L620,1572 M620,1560 L623,1566 M624,1555 L627,1560" style="stroke-width:1.4"/>
<!-- shank -->
<path class="w" d="M549.7,1611.8 L549.7,1690 Q575,1697 603.1,1690 L603.1,1611.8 Z" style="stroke-width:2.5"/>
<path class="t" d="M556,1615 L557,1640 M560,1614 L560,1645 M563,1617 L564,1640 M566,1615 L567,1638 M571,1616 L571,1644 M574,1616 L575,1640 M577,1617 L578,1645 M581,1616 L582,1640 M584,1617 L585,1636 M589,1615 L590,1634 M593,1616 L593,1640" style="stroke-width:1.6"/>
<path class="l" d="M559,1615 L559,1645 M583,1616 L583,1660" style="stroke-width:1.6"/>
<path class="k" d="M566,1625 L572,1622 L574,1636 L568,1640 Z"/>
<path class="k" d="M556,1627 L560,1625 L561,1638 L557,1638 Z"/>
<ellipse cx="576.4" cy="1650.5" rx="31" ry="8" fill="none" stroke="#000" style="stroke-width:2.2"/>
<path class="w" d="M547,1651 L547,1657 Q576,1668 606,1657 L606,1651 Z" style="stroke-width:2"/>
<path class="t" d="M555,1663 L557,1672 M559,1662 L561,1675 M563,1664 L565,1672 M567,1665 L569,1675 M572,1665 L573,1670 M577,1666 L578,1676 M585,1664 L586,1672 M591,1663 L592,1670 M596,1660 L597,1668" style="stroke-width:1.6"/>
<path class="k" d="M562,1667 L570,1668 L571,1674 L563,1673 Z M587,1664 L592,1662 L593,1668 L588,1669 Z"/>
<path class="l" d="M553,1684 Q575,1690 600,1684" style="stroke-width:1.4"/>
</g>
<!-- bottom plate 26 -->
<g>
<path class="w" d="M522.5,1648.6 Q535,1645 545.3,1645.1 L552,1650 L551,1688 Q560,1695 575,1696 Q592,1695 603,1688 L603.1,1669.6 L613.6,1673.1 Q618,1677 622.4,1683.6 L634.7,1701.1 Q641,1707 643.4,1711.7 Q646,1722 645.2,1729.2 Q642,1735 638.2,1736.2 L610.1,1734.4 Q600,1731 592.6,1729.2 Q582,1727 575.1,1725.7 Q560,1721 547.1,1716.9 L530,1720 L520.8,1694.1 L520.8,1690.6 Q512,1684 507.7,1678.4 Q505,1670 506.8,1662.6 Q511,1654 517.3,1650.4 Z" style="stroke-width:2.5"/>
<path class="l" d="M551,1700 Q560,1708 568.1,1708.2 L592.6,1708.2 Q603,1704 606.6,1697.6 L606.6,1690" style="stroke-width:1.8"/>
<path class="l" d="M551,1688 L550.6,1701.1" style="stroke-width:1.8"/>
<path class="l" d="M556,1692 L557,1700 L563,1701 L563,1696" style="stroke-width:1.6"/>
<ellipse cx="531.3" cy="1661" rx="7" ry="3" transform="rotate(-20 531.3 1661)" fill="none" stroke="#000" style="stroke-width:2"/>
<ellipse cx="624.1" cy="1722.2" rx="8" ry="3.5" transform="rotate(-25 624.1 1722.2)" fill="none" stroke="#000" style="stroke-width:2"/>
<path class="t" d="M524,1677 L530,1672 M527,1680 L534,1674 M530,1683 L538,1676 M533,1686 L541,1678 M536,1689 L544,1681 M539,1691 L546,1684 M542,1693 L548,1687 M528,1686 L545,1674" style="stroke-width:1.3"/>
<path class="t" d="M598,1715 L604,1722 M602,1713 L608,1720 M606,1711 L612,1718 M610,1709 L616,1716 M614,1707 L620,1714 M618,1706 L623,1712 M622,1705 L627,1711 M626,1704 L630,1708 M600,1723 L636,1705" style="stroke-width:1.3"/>
<path class="l" d="M594,1722 Q615,1716 640,1716" style="stroke-width:1.3"/>
<line class="l" x1="645.2" y1="1711.7" x2="655.7" y2="1709" style="stroke-width:1.8"/>
</g>
<!-- bottom clamp bolt -->
<g>
<path class="w" d="M492.8,1697.6 L522.5,1711.7 L520,1725 L517.3,1732.7 L487.5,1713.4 Z" style="stroke-width:2.3"/>
<path class="t" d="M496,1702 L493,1714 M500,1704 L497,1717 M504,1706 L500,1720 M508,1708 L504,1723 M512,1710 L508,1726" style="stroke-width:1.3"/>
<path class="w" d="M512,1716 Q517,1712 523,1716 L527.8,1722 L524,1733 Q518,1734 514,1730 Z" style="stroke-width:2.2"/>
<path class="w" d="M523,1724 L545,1735 L540,1750 L520,1738 Z" style="stroke-width:2.2"/>
<path class="t" d="M527,1727 L524,1738 M531,1729 L528,1741 M535,1731 L532,1743" style="stroke-width:1.3"/>
<path class="w" d="M536.6,1735 L556,1732.7 Q561,1735 561.1,1742 L561.1,1757 L545,1762.5 Q538,1760 537,1752 Z" style="stroke-width:2.4"/>
<path class="t" d="M540,1743 L557,1740 M540,1747 L557,1744 M541,1751 L558,1748 M542,1755 L558,1752 M543,1759 L556,1756" style="stroke-width:1.3"/>
<path class="l" d="M536.6,1738 L545,1745 L561,1740" style="stroke-width:1.5"/>
<ellipse class="w" cx="491" cy="1706" rx="7.5" ry="10" transform="rotate(-30 491 1706)" style="stroke-width:2.4"/>
</g>
<!-- ring 25 bottom -->
<g>
<ellipse cx="576.8" cy="1774.7" rx="25" ry="14.5" fill="none" stroke="#000" style="stroke-width:2.6"/>
<ellipse cx="576.8" cy="1774.7" rx="21.5" ry="11.5" fill="none" stroke="#000" style="stroke-width:1.5"/>
<line class="l" x1="600.5" y1="1778.2" x2="616.3" y2="1780.8" style="stroke-width:1.8"/>
</g>

<!-- housing bowl -->
<g>
<!-- left bracket ear -->
<path class="w" d="M479,1458 Q481,1450 490,1449 L508,1448 L510,1491 L485,1491.8 Q479,1488 479,1480 Z" style="stroke-width:2.2"/>
<path class="t" d="M484,1455 L496,1462 M486,1452 L499,1459 M490,1451 L502,1457" style="stroke-width:1.5"/>
<path class="l" d="M483,1472 Q487,1468 494,1469 Q500,1471 500,1477 Q499,1482 494,1483" style="stroke-width:1.8"/>
<!-- left clip wire -->
<path class="l" d="M462,1420 Q461,1425 465,1427 L481,1431 Q486,1434 485,1439 Q484,1443 478,1443 L470,1443 Q466,1446 466,1455 L468,1472 Q470,1481 478,1485 L491,1487" style="stroke-width:2.2"/>
<path class="l" d="M465,1418 L482,1425 Q490,1430 489,1440 Q488,1446 481,1447 L474,1447 Q471,1450 471,1458 L473,1471 Q475,1478 481,1481 L490,1483" style="stroke-width:2.2"/>
<!-- right bracket ear -->
<path class="w" d="M648,1425 L660,1424 Q668,1426 670,1432 L673.6,1445 L673,1458 Q668,1462 660,1461 L650,1460 Z" style="stroke-width:2.2"/>
<path class="t" d="M653,1430 L662,1440 M655,1427 L666,1438 M659,1427 L668,1436" style="stroke-width:1.4"/>
<path class="l" d="M660,1449 Q664,1444 669,1447 Q671,1452 667,1455" style="stroke-width:1.8"/>
<!-- right clip wire -->
<path class="w" d="M669,1397 Q670,1393 675,1392.5 Q681,1392 684,1396 L686,1404 Q685,1408 680,1408 L673,1407 Q669,1404 669,1397 Z" style="stroke-width:2.2"/>
<path class="l" d="M681,1408 L686,1412 Q690,1418 688,1428 Q685,1437 681.8,1442 Q676,1448 669,1450" style="stroke-width:2.2"/>
<path class="l" d="M677,1408 L683,1414 Q685,1420 683,1428 Q680,1436 676,1440 Q672,1444 668,1445" style="stroke-width:2"/>
<!-- bowl body sides -->
<path class="w" d="M503,1448 L505.9,1477 L508,1500 L512,1540 L515.5,1540 Q540,1550 575,1550 Q610,1550 638,1540 L645,1520 L652.9,1477 L654,1448 Z" style="stroke:none"/>
<path class="l" d="M503,1448 Q503,1462 505.9,1477.3 L508,1500 Q510,1515 511,1530 Q512,1540 515.5,1545" style="stroke-width:2.5"/>
<path class="l" d="M654,1448 Q654,1462 652.9,1477.3 L652,1508 Q650,1520 645,1528 Q642,1535 638.2,1540" style="stroke-width:2.5"/>
<!-- bowl band lines -->
<path class="l" d="M505,1475 Q520,1495 578.3,1500 Q635,1497 653,1477" style="stroke-width:1.8"/>
<path class="l" d="M507,1488 Q525,1502 578.3,1505 Q630,1503 652,1490" style="stroke-width:1.8"/>
<!-- features on body -->
<path class="l" d="M547.5,1498 Q549,1510 559,1512.5 Q570,1512 574,1500 Q578,1498 583,1498" style="stroke-width:1.8"/>
<path class="l" d="M562,1503 Q557,1502 556,1506 Q557,1510 562,1509" style="stroke-width:1.5"/>
<path class="l" d="M513,1512.5 Q540,1519 568.5,1523.3 L571.2,1536.8 Q585,1538 596.9,1539.6 L599.6,1550.4 Q622,1545 644.3,1536.8" style="stroke-width:1.9"/>
<path class="l" d="M618,1527 Q616,1520 617.2,1515.2 Q624,1512 630.8,1511.1" style="stroke-width:1.8"/>
<ellipse cx="579.4" cy="1523.3" rx="2.2" ry="1.8" fill="#000"/>
<path class="t" d="M510,1488 L514,1494 M511,1495 L516,1500 M512,1502 L518,1507 M513,1508 L519,1513 M514,1515 L519,1520 M520,1503 L526,1507 M522,1497 L528,1500" style="stroke-width:1.5"/>
<path class="t" d="M509,1484 L522,1487 M509,1488 L524,1492 M510,1492 L526,1496 M511,1497 L528,1501 M512,1502 L530,1506 M512,1527 L522,1531 M513,1532 L524,1536 M514,1537 L526,1541 M515,1542 L528,1546 M517,1547 L530,1551" style="stroke-width:1.5"/>
<path class="t" d="M511,1520 L514,1530 M513,1518 L517,1528 M515,1517 L519,1525" style="stroke-width:1.3"/>
<path class="t" d="M645,1492 L648,1500 M647,1488 L650,1496 M641,1500 L646,1508 M643,1498 L647,1504" style="stroke-width:1.3"/>
<!-- rim ellipses -->
<ellipse cx="578.5" cy="1445" rx="75.5" ry="44" fill="#fff" stroke="#000" style="stroke-width:2.6"/>
<ellipse cx="578.5" cy="1446" rx="68" ry="37" fill="none" stroke="#000" style="stroke-width:2"/>
<path class="l" d="M514,1458 Q525,1436 578.3,1433 Q630,1435 642.5,1454" style="stroke-width:1.6"/>
<path class="t" d="M510,1430 L520,1440 M512,1426 L523,1436 M514,1423 L526,1432 M517,1420 L528,1429 M520,1418 L529,1425 M511,1436 L517,1442" style="stroke-width:1.6"/>
<path class="t" d="M623,1418 L633,1432 M626,1417 L637,1431 M629,1417 L640,1430 M632,1418 L643,1432 M635,1419 L645,1434 M638,1420 L647,1436 M641,1422 L648,1440 M625,1422 L634,1436 M632,1426 L640,1438" style="stroke-width:1.5"/>
<!-- shaft inside -->
<path class="w" d="M562.8,1470 L562.8,1420 L592.8,1420 L592.8,1470 Z" style="stroke-width:2.3"/>
<ellipse class="w" cx="578.3" cy="1452.5" rx="26.5" ry="14" style="stroke-width:2"/>
<path class="w" d="M565,1452 L565,1428 L592,1425 L592,1452 Q588,1460 578,1459 Q568,1458 565,1452 Z" style="stroke-width:2.2"/>
<path class="l" d="M565,1438 Q578,1432 592,1440 M565,1450 Q578,1447 590,1456" style="stroke-width:1.8"/>
<path class="w" d="M565,1464 L565,1480 L591,1480 L591,1464 Q578,1468 565,1464 Z" style="stroke-width:2"/>
<path class="w" d="M564.5,1388 L564.5,1423 Q578,1427 592.8,1423 L592.8,1388 Z" style="stroke-width:2.3"/>
<path class="t" d="M566,1392 L591,1393 M566,1396 L591,1397 M566,1400 L591,1401 M566,1404 L591,1405 M566,1408 L591,1409 M566,1412 L591,1413 M566,1416 L591,1417 M566,1420 L591,1421" style="stroke-width:1.5"/>
<path class="w" d="M565,1380 L565,1390 Q578,1394 592,1390 L592,1380 Z" style="stroke-width:2"/>
</g>
<!-- vacuum link arm -->
<g>
<path class="w" d="M628,1510 L636,1506 L664,1540 L657,1546 Z" style="stroke-width:2.2"/>
<circle cx="637" cy="1516" r="1.3" fill="#000"/>
</g>
<!-- Part 24 vacuum unit -->
<g>
<!-- left lug -->
<path class="w" d="M607,1594 Q606,1590 612,1589.8 L624,1590 L625,1612 L612,1612.6 Q606,1610 606,1604 Z" style="stroke-width:2.2"/>
<ellipse cx="614.5" cy="1601" rx="4.5" ry="3.5" fill="none" stroke="#000" style="stroke-width:2"/>
<!-- top hook -->
<path class="w" d="M672,1530 Q670,1520 673,1512 Q678,1506 683,1506 Q688,1507 688,1514 L689.3,1532 Z" style="stroke-width:2.2"/>
<path class="k" d="M676,1518 L680,1512 L685,1514 L684,1528 L678,1529 Z"/>
<path d="M679,1517 L682,1516 L681,1522 Z" fill="#fff"/>
<!-- disc back rim -->
<ellipse cx="692" cy="1592" rx="66.5" ry="62.6" fill="#fff" stroke="#000" style="stroke-width:2.7"/>
<ellipse cx="697" cy="1592" rx="61" ry="60" fill="none" stroke="#000" style="stroke-width:1.8"/>
<path d="M718.5,1646.9 A54,52 0 1 1 748.9,1620.0" fill="none" stroke="#000" style="stroke-width:1.7"/>
<path d="M713.9,1637.9 A45,42 0 1 1 742.3,1612.4" fill="none" stroke="#000" style="stroke-width:1.7"/>
<path d="M709.1,1628.9 A35,32 0 1 1 733.3,1607.9" fill="none" stroke="#000" style="stroke-width:1.7"/>
<path d="M704.3,1619.7 A25,22 0 1 1 724.1,1603.7" fill="none" stroke="#000" style="stroke-width:1.7"/>
<!-- hatched wedge -->
<path d="M668,1545 L673,1542 M669,1549 L678,1545 M671,1553 L684,1549 M673,1557 L688,1553 M676,1561 L692,1557 M679,1565 L695,1561 M682,1570 L697,1566 M685,1575 L699,1571 M688,1580 L701,1576 M691,1585 L703,1581 M694,1590 L705,1586 M697,1595 L706,1591 M700,1600 L707,1597 M703,1605 L708,1602 M706,1610 L710,1608" fill="none" stroke="#000" style="stroke-width:2.4"/>
<path d="M688,1539 L700,1541 M690,1543 L701,1546 M692,1547 L703,1551 M694,1552 L704,1556 M696,1557 L704,1561" fill="none" stroke="#000" style="stroke-width:1.8"/>
<path d="M670,1537 L690,1534 M672,1541 L694,1538 M695,1532 L704,1534" fill="none" stroke="#000" style="stroke-width:1.4"/>
<!-- cone -->
<path d="M684,1619.6 Q695,1615 708.6,1612.6 L722.6,1626.6 L712,1647.6 Q700,1640 690,1630 Z" fill="#fff"/>
<path d="M708.6,1612.6 Q716,1618 722.6,1626.6" fill="none" stroke="#000" style="stroke-width:2"/>
<path d="M684,1619.6 Q695,1634 712,1647.6" fill="none" stroke="#000" style="stroke-width:2"/>
<path d="M686,1622 L690,1618 M688,1626 L694,1620 M691,1630 L698,1622 M694,1634 L702,1624 M697,1637 L706,1626 M700,1640 L710,1628 M703,1643 L713,1631 M706,1645 L715,1634 M709,1647 L717,1637" fill="none" stroke="#000" style="stroke-width:1.8"/>
<path d="M712,1614 L716,1621 M715,1613 L719,1622 M718,1615 L721,1623" fill="none" stroke="#000" style="stroke-width:1.6"/>
<!-- boss -->
<path class="w" d="M712,1632 Q718,1625 727,1627 L739,1639 Q742,1647 738,1651.2 Q731,1655 723,1652 L714,1645 Z" style="stroke-width:2.2"/>
<!-- pin -->
<path class="w" d="M720,1641 L725,1635 L744,1655 Q745,1660 739,1660 Z" style="stroke-width:2.2"/>
<ellipse class="w" cx="741.5" cy="1657.5" rx="4.8" ry="3.3" transform="rotate(45 741.5 1657.5)" style="stroke-width:2"/>
<line class="l" x1="759.4" y1="1589.8" x2="770.8" y2="1590.7" style="stroke-width:1.8"/>
</g>

<!-- dashed line -->
<g>
<path d="M283.9,1772 L343.9,1737.4" fill="none" stroke="#000" style="stroke-width:1.4;stroke-dasharray:13 3"/>
<path d="M356.6,1729.3 L530.9,1624.2" fill="none" stroke="#000" style="stroke-width:1.4;stroke-dasharray:15 3"/>
<path d="M530.9,1624.2 L532,1659" fill="none" stroke="#000" style="stroke-width:1.3;stroke-dasharray:10 3"/>
<path d="M283.5,1756 L283.5,1769" fill="none" stroke="#000" style="stroke-width:1.1;stroke-dasharray:4 2"/>
</g>
<!-- bottom-left bolt 27 -->
<g>
<path class="w" d="M279,1665 L279,1704 Q285,1709 291,1704 L291,1665 Z" style="stroke-width:2.6"/>
<path class="t" d="M280.5,1670 L289.5,1671 M280.5,1673.5 L289.5,1674.5 M280.5,1677 L289.5,1678 M280.5,1680.5 L289.5,1681.5 M280.5,1684 L289.5,1685 M280.5,1687.5 L289.5,1688.5 M280.5,1691 L289.5,1692 M280.5,1694.5 L289.5,1695.5 M280.5,1698 L289.5,1699 M280.5,1701.5 L289.5,1702.5" style="stroke-width:2"/>
<path class="k" d="M287,1668 L291,1668 L291,1704 L288,1705 Z"/>
<path class="w" d="M272.5,1654 Q272.5,1648 284.5,1648 Q297,1648 297,1654 L297,1662 L294,1667 L276,1667 L272.5,1662 Z" style="stroke-width:2.6"/>
<path class="l" d="M273,1659 Q285,1662 296.5,1659 M279,1660 L277,1666.5 M291,1660 L293.5,1666.5" style="stroke-width:1.5"/>
<line class="l" x1="264.6" y1="1675" x2="279" y2="1678" style="stroke-width:1.8"/>
</g>
<!-- washer 28 bottom -->
<g>
<ellipse class="w" cx="285" cy="1722" rx="12" ry="7" style="stroke-width:2.8"/>
<ellipse cx="285" cy="1721.5" rx="5" ry="2.8" fill="none" stroke="#000" style="stroke-width:2.4"/>
<path class="k" d="M281,1725.5 L285,1725 L286,1730 L282,1730.5 Z"/>
<line class="l" x1="259.5" y1="1719" x2="273.5" y2="1723" style="stroke-width:1.8"/>
</g>
<!-- washer 29 bottom -->
<g>
<path class="w" d="M272.5,1742 L272.5,1746 Q274,1752 285,1752 Q296,1752 297.5,1746 L297.5,1742 Z" style="stroke-width:2.5"/>
<ellipse class="w" cx="285" cy="1741.5" rx="12.5" ry="7.5" style="stroke-width:2.7"/>
<ellipse cx="285" cy="1741.5" rx="5" ry="2.6" fill="none" stroke="#000" style="stroke-width:2.2"/>
<line class="l" x1="262" y1="1751" x2="272" y2="1746" style="stroke-width:1.8"/>
</g>
<!-- leader 15 -->
<line class="l" x1="893" y1="1304" x2="911" y2="1304" style="stroke-width:1.8"/>


<g class="c">
<circle cx="147.5" cy="56.6" r="12.6"/><text x="147.5" y="62.4">5</text>
<circle cx="515" cy="57" r="12.6"/><text x="515" y="62.8">2</text>
<circle cx="928" cy="127" r="12.6"/><text x="928" y="132.8">1</text>
<circle cx="265.5" cy="151" r="12.6"/><text x="265.5" y="156.8">8</text>
<circle cx="121" cy="150" r="12.6"/><text x="121" y="155.8">6</text>
<circle cx="30.5" cy="256.5" r="12.6"/><text x="30.5" y="262.3">10</text>
<circle cx="64.5" cy="304" r="12.6"/><text x="64.5" y="309.8">9</text>
<circle cx="267" cy="376" r="12.6"/><text x="267" y="381.8">7</text>
<circle cx="515" cy="344" r="12.6"/><text x="515" y="349.8">3</text>
<circle cx="51" cy="436" r="12.6"/><text x="51" y="441.8">13</text>
<circle cx="252" cy="501" r="12.6"/><text x="252" y="506.8">11</text>
<circle cx="287" cy="575" r="12.6"/><text x="287" y="580.8">12</text>
<circle cx="516.5" cy="560.5" r="12.6"/><text x="516.5" y="566.3">4</text>
<circle cx="378" cy="666" r="12.6"/><text x="378" y="671.8">14</text>
<circle cx="980" cy="571" r="12.6"/><text x="980" y="576.8">25</text>
<circle cx="791.5" cy="640" r="12.6"/><text x="791.5" y="645.8">27</text>
<circle cx="786" cy="680" r="12.6"/><text x="786" y="685.8">28</text>
<circle cx="779" cy="712" r="12.6"/><text x="779" y="717.8">29</text>
<circle cx="1155" cy="686" r="12.6"/><text x="1155" y="691.8">26</text>
<circle cx="678" cy="921.5" r="12.6"/><text x="678" y="927.3">16</text>
<circle cx="543" cy="969" r="12.6"/><text x="543" y="974.8">17</text>
<circle cx="522.5" cy="1014" r="12.6"/><text x="522.5" y="1019.8">18</text>
<circle cx="673" cy="1030" r="12.6"/><text x="673" y="1035.8">20</text>
<circle cx="497" cy="1074" r="12.6"/><text x="497" y="1079.8">21</text>
<circle cx="674" cy="1078" r="12.6"/><text x="674" y="1083.8">19</text>
<circle cx="448" cy="1161" r="12.6"/><text x="448" y="1166.8">22</text>
<circle cx="630.5" cy="1217" r="12.6"/><text x="630.5" y="1222.8">23</text>
<circle cx="924" cy="1304" r="12.6"/><text x="924" y="1309.8">15</text>
<circle cx="782" cy="1595" r="12.6"/><text x="782" y="1600.8">24</text>
<circle cx="666" cy="1703" r="12.6"/><text x="666" y="1708.8">26</text>
<circle cx="629" cy="1782" r="12.6"/><text x="629" y="1787.8">25</text>
<circle cx="252" cy="1675" r="12.6"/><text x="252" y="1680.8">27</text>
<circle cx="247" cy="1715.5" r="12.6"/><text x="247" y="1721.3">28</text>
<circle cx="248.7" cy="1755.7" r="12.6"/><text x="248.7" y="1761.5">29</text>
</g>
</svg>
</body></html>
